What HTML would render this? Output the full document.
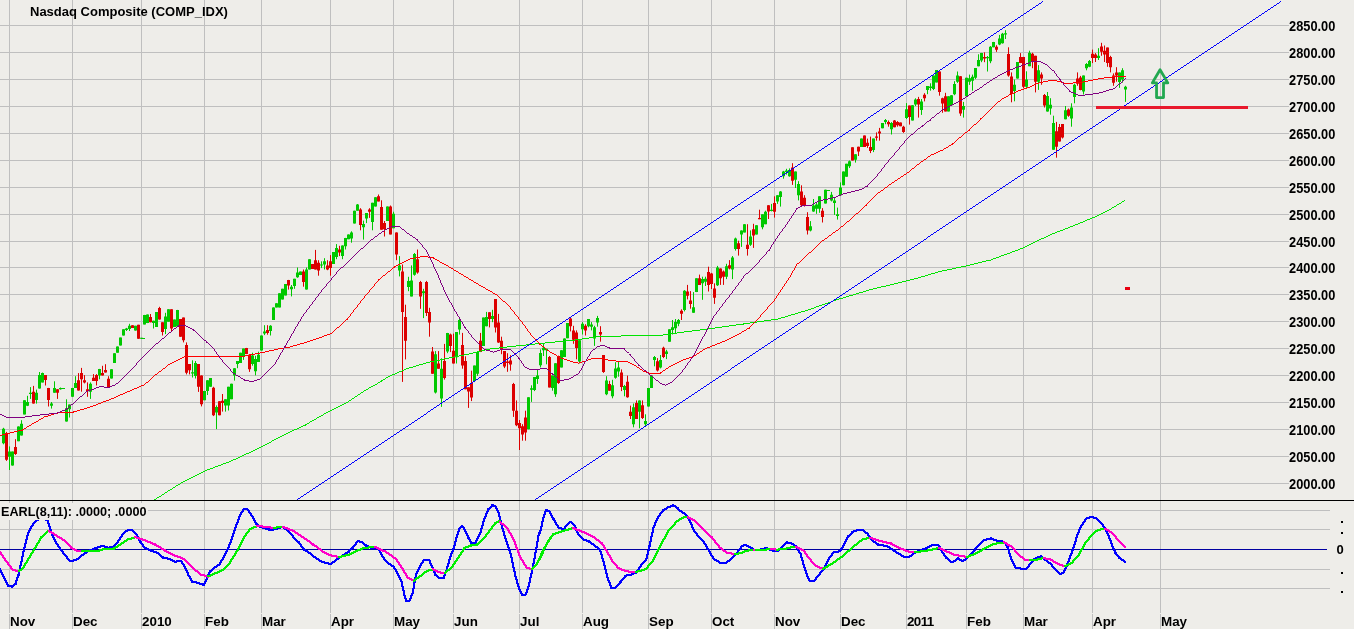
<!DOCTYPE html>
<html><head><meta charset="utf-8"><title>Nasdaq Composite (COMP_IDX)</title>
<style>html,body{margin:0;padding:0;background:#eeede9;}body{width:1354px;height:629px;overflow:hidden}svg{display:block}</style>
</head><body>
<svg width="1354" height="629" viewBox="0 0 1354 629" shape-rendering="auto">
<rect width="1354" height="629" fill="#eeede9"/>
<path d="M9.5 0V613M9.5 614V629 M72.5 0V613M72.5 614V629 M141.5 0V613M141.5 614V629 M204.5 0V613M204.5 614V629 M261.5 0V613M261.5 614V629 M330.5 0V613M330.5 614V629 M393.5 0V613M393.5 614V629 M453.5 0V613M453.5 614V629 M519.5 0V613M519.5 614V629 M582.5 0V613M582.5 614V629 M648.5 0V613M648.5 614V629 M711.5 0V613M711.5 614V629 M774.5 0V613M774.5 614V629 M840.5 0V613M840.5 614V629 M906.5 0V613M906.5 614V629 M966.5 0V613M966.5 614V629 M1023.5 0V613M1023.5 614V629 M1092.5 0V613M1092.5 614V629 M1160.5 0V613M1160.5 614V629 M0 25.5H1289 M0 52.5H1289 M0 79.5H1289 M0 106.5H1289 M0 133.5H1289 M0 160.5H1289 M0 187.5H1289 M0 214.5H1289 M0 241.5H1289 M0 267.5H1289 M0 294.5H1289 M0 321.5H1289 M0 348.5H1289 M0 375.5H1289 M0 402.5H1289 M0 429.5H1289 M0 456.5H1289 M0 483.5H1289 M0 510.5H1330 M0 529.5H1330 M0 569.5H1330 M0 588.5H1330" stroke="#bfbfbf" stroke-width="1" fill="none" shape-rendering="crispEdges"/>
<path d="M3.5 427.8V444.3 M9.5 446.4V470.0 M12.5 451.6V465.6 M18.5 426.4V441.2 M21.5 420.2V435.5 M24.5 400.3V414.4 M27.5 395.8V406.1 M30.5 387.1V398.9 M36.5 389.6V403.6 M39.5 372.0V388.6 M42.5 372.6V382.4 M51.5 402.0V408.6 M54.5 381.3V392.7 M60.5 387.5V389.6 M66.5 399.3V421.6 M69.5 404.5V417.5 M72.5 387.9V396.8 M75.5 376.2V387.9 M90.5 382.4V398.9 M99.5 368.9V379.3 M111.5 369.2V378.5 M114.5 353.3V363.0 M117.5 346.5V352.7 M120.5 337.6V345.5 M123.5 329.3V335.5 M126.5 327.9V331.0 M129.5 323.8V331.0 M135.5 325.8V330.6 M141.5 337.8V338.6 M144.5 314.9V324.4 M147.5 314.5V323.1 M153.5 320.7V328.5 M156.5 312.0V326.9 M165.5 312.8V334.1 M168.5 309.3V321.7 M174.5 319.6V326.9 M177.5 309.9V326.4 M192.5 360.3V377.5 M195.5 361.0V378.5 M204.5 390.9V400.2 M207.5 380.2V395.0 M210.5 378.1V386.8 M216.5 405.4V429.1 M225.5 399.2V411.6 M228.5 386.8V410.5 M231.5 383.7V399.2 M234.5 368.2V380.6 M237.5 361.0V368.2 M240.5 352.7V363.0 M243.5 348.6V359.9 M252.5 352.7V365.7 M255.5 355.8V375.4 M258.5 351.7V362.0 M261.5 335.5V350.6 M264.5 325.2V335.1 M270.5 325.2V335.5 M273.5 307.4V320.0 M276.5 303.2V307.4 M279.5 293.3V307.4 M282.5 288.8V299.5 M285.5 284.0V295.4 M291.5 285.0V296.4 M294.5 278.8V288.8 M297.5 267.5V277.8 M300.5 271.6V275.1 M306.5 267.5V289.6 M309.5 259.2V269.5 M321.5 261.3V268.1 M324.5 258.2V269.5 M333.5 252.0V264.0 M336.5 244.1V259.2 M342.5 245.4V259.2 M345.5 237.9V249.5 M348.5 234.4V239.2 M351.5 231.3V242.7 M354.5 210.7V223.5 M357.5 204.0V210.7 M363.5 220.6V239.6 M366.5 213.1V223.1 M372.5 202.8V230.3 M375.5 197.2V206.5 M387.5 206.5V221.0 M393.5 211.7V228.2 M399.5 256.1V276.4 M408.5 276.8V291.2 M411.5 265.4V296.4 M414.5 253.0V275.7 M423.5 288.8V318.1 M435.5 351.1V393.5 M441.5 358.3V406.9 M447.5 332.9V353.2 M456.5 332.1V363.5 M459.5 317.0V334.6 M474.5 365.6V382.1 M477.5 352.1V375.9 M483.5 317.6V346.0 M486.5 311.9V326.3 M492.5 309.8V322.2 M528.5 397.3V429.3 M531.5 385.3V401.9 M534.5 377.1V391.1 M537.5 369.4V383.9 M540.5 349.4V367.4 M543.5 343.2V356.0 M546.5 348.8V364.3 M552.5 375.6V390.7 M555.5 363.2V396.9 M561.5 350.2V367.4 M564.5 338.4V357.0 M567.5 323.1V338.2 M579.5 340.3V363.4 M582.5 322.1V334.5 M588.5 319.0V327.3 M591.5 322.1V330.4 M594.5 325.8V345.9 M597.5 315.9V326.7 M606.5 376.2V395.2 M612.5 379.8V398.3 M615.5 362.2V378.7 M618.5 361.2V376.7 M624.5 384.9V396.3 M633.5 403.5V427.3 M639.5 400.4V428.3 M645.5 414.3V426.2 M648.5 388.0V406.6 M651.5 375.6V388.0 M654.5 356.0V366.3 M660.5 355.0V368.4 M666.5 349.8V359.1 M669.5 329.3V341.7 M672.5 320.0V334.5 M675.5 319.0V333.5 M678.5 319.0V326.2 M684.5 290.1V311.4 M693.5 292.1V312.8 M696.5 278.3V292.1 M702.5 276.7V299.8 M705.5 276.7V286.0 M717.5 265.9V286.0 M726.5 263.8V279.1 M732.5 256.0V279.1 M735.5 237.6V250.6 M741.5 230.4V246.9 M744.5 224.2V232.4 M750.5 230.4V245.9 M756.5 225.2V234.5 M762.5 214.3V229.3 M765.5 210.7V224.2 M771.5 203.9V211.4 M777.5 195.2V203.9 M780.5 191.1V206.6 M783.5 170.9V178.7 M786.5 168.8V174.6 M789.5 168.4V176.7 M795.5 171.5V188.0 M798.5 181.2V200.4 M810.5 221.1V231.4 M813.5 199.0V211.8 M816.5 203.1V213.8 M819.5 196.3V212.8 M825.5 189.7V203.5 M831.5 191.9V201.4 M834.5 197.3V214.9 M837.5 207.6V219.6 M840.5 182.4V195.2 M843.5 171.5V185.3 M846.5 163.8V176.7 M849.5 160.5V168.0 M855.5 154.3V162.6 M861.5 138.6V146.9 M873.5 138.6V152.1 M882.5 123.1V128.3 M885.5 119.0V124.2 M891.5 122.1V134.5 M906.5 103.1V119.0 M912.5 105.2V120.5 M915.5 98.3V106.0 M921.5 99.0V114.9 M927.5 86.0V94.2 M930.5 83.3V90.7 M933.5 75.6V90.1 M936.5 70.0V82.4 M948.5 96.3V111.4 M951.5 95.2V105.2 M954.5 81.2V95.2 M957.5 71.5V82.9 M963.5 101.9V117.6 M966.5 77.7V96.9 M969.5 74.6V84.9 M972.5 74.6V90.7 M975.5 68.0V79.1 M978.5 54.3V66.3 M981.5 52.9V62.2 M987.5 56.0V71.5 M990.5 46.1V63.2 M993.5 41.9V47.3 M999.5 34.9V45.2 M1002.5 32.9V43.6 M1005.5 30.2V39.0 M1014.5 79.6V101.3 M1017.5 62.0V78.6 M1026.5 71.3V87.9 M1029.5 50.7V66.2 M1038.5 65.1V89.9 M1047.5 92.0V111.6 M1050.5 98.2V114.7 M1053.5 115.7V149.8 M1065.5 106.0V119.3 M1071.5 103.3V126.7 M1074.5 83.7V103.3 M1083.5 75.5V94.5 M1086.5 63.1V70.3 M1089.5 60.0V67.2 M1098.5 48.2V60.0 M1119.5 72.4V87.9 M1122.5 68.2V82.7 M1125.5 85.8V101.9" stroke="#00c800" stroke-width="1" fill="none"/>
<path d="M2 428.8h3V443.3h-3z M8 451.6h3V456.7h-3z M11 451.6h3V465.6h-3z M17 426.4h3V441.2h-3z M20 423.7h3V435.5h-3z M23 400.3h3V414.4h-3z M26 402.0h3V405.7h-3z M29 392.7h3V394.1h-3z M35 392.7h3V399.9h-3z M38 375.1h3V388.6h-3z M41 373.1h3V382.4h-3z M50 403.6h3V405.7h-3z M53 387.9h3V392.7h-3z M59 388.1h3V389.2h-3z M65 408.2h3V421.6h-3z M68 404.5h3V409.2h-3z M71 387.9h3V396.8h-3z M74 383.0h3V387.9h-3z M89 383.8h3V391.7h-3z M98 368.9h3V375.5h-3z M110 369.2h3V378.5h-3z M113 353.3h3V363.0h-3z M116 346.5h3V352.7h-3z M119 337.6h3V345.5h-3z M122 329.3h3V335.5h-3z M125 328.5h3V330.0h-3z M128 325.8h3V328.9h-3z M134 325.8h3V330.6h-3z M140 337.8h3V338.8h-3z M143 314.9h3V324.4h-3z M146 314.5h3V323.1h-3z M152 320.7h3V323.1h-3z M155 312.0h3V326.9h-3z M164 316.5h3V328.9h-3z M167 309.3h3V321.7h-3z M173 319.6h3V326.9h-3z M176 309.9h3V326.4h-3z M191 372.3h3V373.6h-3z M194 363.0h3V376.0h-3z M203 390.9h3V400.2h-3z M206 380.2h3V390.9h-3z M209 378.1h3V386.8h-3z M215 407.0h3V412.6h-3z M224 399.2h3V405.4h-3z M227 386.8h3V405.4h-3z M230 383.7h3V399.2h-3z M233 368.2h3V375.4h-3z M236 361.0h3V364.0h-3z M239 352.7h3V363.0h-3z M242 348.6h3V356.8h-3z M251 355.4h3V364.0h-3z M254 358.9h3V371.3h-3z M257 354.8h3V362.0h-3z M260 335.5h3V350.6h-3z M263 331.4h3V333.5h-3z M269 325.8h3V331.0h-3z M272 307.4h3V320.0h-3z M275 303.2h3V307.4h-3z M278 293.3h3V307.4h-3z M281 288.8h3V299.5h-3z M284 284.0h3V295.4h-3z M290 286.7h3V289.2h-3z M293 278.8h3V286.1h-3z M296 272.6h3V277.2h-3z M299 271.6h3V275.1h-3z M305 269.5h3V289.6h-3z M308 259.2h3V269.5h-3z M320 264.4h3V265.6h-3z M323 261.3h3V264.4h-3z M332 252.0h3V264.0h-3z M335 247.9h3V257.1h-3z M341 245.4h3V256.1h-3z M344 237.9h3V246.2h-3z M347 234.4h3V239.2h-3z M350 232.4h3V238.6h-3z M353 210.7h3V223.5h-3z M356 204.5h3V210.7h-3z M362 224.1h3V227.2h-3z M365 213.1h3V218.5h-3z M371 202.8h3V222.0h-3z M374 197.2h3V206.5h-3z M386 206.5h3V221.0h-3z M392 213.8h3V228.2h-3z M398 265.4h3V270.6h-3z M407 280.9h3V287.1h-3z M410 280.5h3V296.4h-3z M413 254.0h3V274.7h-3z M422 291.2h3V293.3h-3z M434 354.2h3V392.4h-3z M440 368.7h3V398.6h-3z M446 332.9h3V351.5h-3z M455 332.1h3V357.3h-3z M458 320.1h3V329.4h-3z M473 365.6h3V381.1h-3z M476 352.1h3V373.8h-3z M482 317.6h3V346.0h-3z M485 317.0h3V326.3h-3z M491 316.0h3V319.1h-3z M527 397.3h3V429.3h-3z M530 388.2h3V389.7h-3z M533 377.1h3V390.1h-3z M536 375.6h3V379.1h-3z M539 352.9h3V365.3h-3z M542 347.7h3V350.2h-3z M545 348.8h3V350.2h-3z M551 375.6h3V388.0h-3z M554 363.2h3V394.2h-3z M560 350.2h3V367.4h-3z M563 338.4h3V357.0h-3z M566 323.1h3V338.2h-3z M578 340.3h3V361.4h-3z M581 323.8h3V329.3h-3z M587 319.0h3V326.2h-3z M590 324.6h3V326.7h-3z M593 327.3h3V338.6h-3z M596 318.0h3V322.5h-3z M605 380.4h3V394.2h-3z M611 385.3h3V396.3h-3z M614 368.4h3V377.7h-3z M617 367.4h3V371.5h-3z M623 386.0h3V390.1h-3z M632 407.2h3V424.2h-3z M638 400.4h3V411.8h-3z M644 421.1h3V424.2h-3z M647 388.0h3V406.6h-3z M650 375.6h3V388.0h-3z M653 357.0h3V360.1h-3z M659 360.1h3V367.4h-3z M665 351.4h3V353.9h-3z M668 329.3h3V341.7h-3z M671 327.3h3V330.0h-3z M674 322.1h3V328.3h-3z M677 320.0h3V323.8h-3z M683 290.7h3V310.1h-3z M692 307.2h3V312.8h-3z M695 278.3h3V292.1h-3z M701 279.1h3V283.3h-3z M704 278.7h3V281.8h-3z M716 267.4h3V285.3h-3z M725 266.3h3V276.7h-3z M731 257.6h3V269.4h-3z M734 238.6h3V249.0h-3z M740 230.4h3V234.5h-3z M743 224.2h3V232.4h-3z M749 236.6h3V244.8h-3z M755 225.2h3V234.5h-3z M761 214.3h3V227.3h-3z M764 211.8h3V224.2h-3z M770 209.7h3V211.0h-3z M776 195.2h3V201.4h-3z M779 191.5h3V196.9h-3z M782 171.5h3V176.2h-3z M785 170.5h3V172.1h-3z M788 170.0h3V176.2h-3z M794 171.5h3V179.8h-3z M797 183.9h3V195.2h-3z M809 226.2h3V230.4h-3z M812 205.6h3V211.4h-3z M815 204.5h3V208.7h-3z M818 196.3h3V208.7h-3z M824 189.7h3V203.5h-3z M830 194.8h3V200.6h-3z M833 200.4h3V203.1h-3z M836 214.3h3V215.9h-3z M839 187.4h3V195.2h-3z M842 171.5h3V185.3h-3z M845 163.8h3V176.7h-3z M848 161.2h3V166.3h-3z M854 154.3h3V159.7h-3z M860 138.6h3V146.9h-3z M872 138.6h3V150.0h-3z M881 123.1h3V128.3h-3z M884 120.0h3V122.1h-3z M890 123.1h3V129.3h-3z M905 109.3h3V118.0h-3z M911 105.2h3V120.5h-3z M914 99.4h3V104.5h-3z M920 101.4h3V110.1h-3z M926 86.0h3V90.1h-3z M929 86.6h3V88.0h-3z M932 75.6h3V89.0h-3z M935 70.0h3V82.4h-3z M947 96.3h3V111.4h-3z M950 95.2h3V105.2h-3z M953 83.9h3V94.2h-3z M956 75.6h3V81.8h-3z M962 106.0h3V109.7h-3z M965 77.7h3V96.3h-3z M968 78.3h3V81.8h-3z M971 76.7h3V80.8h-3z M974 68.0h3V77.7h-3z M977 60.1h3V66.3h-3z M980 52.9h3V60.5h-3z M986 57.0h3V58.3h-3z M989 46.7h3V61.2h-3z M992 41.9h3V47.3h-3z M998 38.4h3V44.6h-3z M1001 33.7h3V43.2h-3z M1004 33.3h3V34.5h-3z M1013 84.8h3V91.0h-3z M1016 62.0h3V78.6h-3z M1025 79.6h3V86.8h-3z M1028 52.7h3V66.2h-3z M1037 70.3h3V81.7h-3z M1046 96.1h3V111.6h-3z M1049 104.8h3V108.5h-3z M1052 123.0h3V149.8h-3z M1064 110.2h3V119.3h-3z M1070 107.5h3V118.4h-3z M1073 84.8h3V97.1h-3z M1082 75.5h3V91.6h-3z M1085 64.1h3V68.2h-3z M1088 61.0h3V66.8h-3z M1097 55.8h3V57.9h-3z M1118 72.4h3V82.1h-3z M1121 70.3h3V79.6h-3z M1124 86.8h3V89.5h-3z" fill="#00c800"/>
<path d="M6.5 431.9V460.9 M15.5 439.2V454.9 M33.5 385.9V403.6 M45.5 375.1V385.5 M48.5 387.9V406.5 M57.5 389.2V398.9 M78.5 373.1V390.6 M81.5 367.9V391.7 M84.5 375.1V383.4 M87.5 382.4V396.8 M93.5 374.1V380.9 M96.5 374.1V385.5 M102.5 365.8V375.5 M105.5 364.2V372.6 M108.5 376.2V387.1 M132.5 325.2V327.9 M138.5 324.8V338.8 M150.5 314.0V322.3 M159.5 306.8V319.6 M162.5 322.3V335.5 M171.5 309.3V332.0 M180.5 319.0V336.8 M183.5 317.6V342.4 M186.5 342.4V374.4 M189.5 364.0V374.4 M198.5 364.0V391.9 M201.5 375.4V406.4 M213.5 386.8V416.1 M219.5 401.2V415.3 M222.5 394.0V411.6 M246.5 347.9V354.1 M249.5 354.1V371.9 M267.5 325.2V334.7 M288.5 279.9V289.6 M303.5 269.5V286.7 M312.5 264.0V268.9 M315.5 249.9V269.5 M318.5 260.2V275.7 M327.5 260.2V270.2 M330.5 255.1V275.7 M339.5 245.8V256.1 M360.5 208.2V230.3 M369.5 208.2V217.9 M378.5 194.5V201.4 M381.5 200.3V229.7 M384.5 221.0V236.5 M390.5 205.5V234.4 M396.5 232.4V260.2 M402.5 264.4V381.9 M405.5 304.7V359.4 M417.5 249.5V273.7 M420.5 280.9V308.8 M426.5 280.9V316.0 M429.5 307.8V336.7 M432.5 347.0V373.8 M438.5 351.1V368.7 M444.5 343.9V379.6 M450.5 333.6V352.1 M453.5 333.6V363.5 M462.5 332.9V368.7 M465.5 356.3V389.3 M468.5 387.3V407.9 M471.5 370.7V401.1 M480.5 332.9V352.1 M489.5 312.3V327.4 M495.5 299.0V332.5 M498.5 313.9V342.9 M501.5 336.7V354.2 M504.5 351.1V368.1 M507.5 353.2V371.8 M510.5 355.2V370.7 M513.5 382.9V416.9 M516.5 400.4V426.2 M519.5 420.0V450.0 M522.5 424.2V440.7 M525.5 410.7V440.7 M549.5 356.0V387.4 M558.5 355.6V383.9 M570.5 316.9V331.4 M573.5 325.8V343.8 M576.5 330.4V359.3 M585.5 324.2V335.5 M600.5 326.2V341.7 M603.5 355.0V372.9 M609.5 380.8V390.7 M621.5 369.4V391.1 M627.5 375.6V397.7 M630.5 405.6V419.0 M636.5 400.4V419.0 M642.5 400.4V419.0 M657.5 358.1V371.5 M663.5 346.7V358.1 M681.5 309.3V320.0 M687.5 284.9V299.4 M690.5 291.1V308.7 M699.5 274.6V284.9 M708.5 266.7V291.5 M711.5 272.9V289.0 M714.5 283.3V303.9 M720.5 268.4V284.9 M723.5 270.5V284.9 M729.5 260.1V269.4 M738.5 240.7V255.6 M747.5 224.2V255.6 M753.5 223.8V247.9 M759.5 209.7V219.2 M768.5 205.2V219.0 M774.5 196.3V217.6 M792.5 163.2V184.9 M801.5 185.3V206.6 M804.5 195.2V206.6 M807.5 212.2V234.5 M822.5 208.1V222.5 M852.5 147.3V160.5 M858.5 146.7V156.0 M864.5 135.5V146.9 M867.5 138.6V147.9 M870.5 136.6V153.1 M876.5 132.4V140.7 M879.5 127.9V140.7 M888.5 120.5V126.7 M894.5 120.0V127.3 M897.5 121.1V126.7 M900.5 122.5V126.2 M903.5 125.8V132.9 M909.5 105.6V124.6 M918.5 96.9V117.6 M924.5 93.2V101.4 M939.5 71.5V95.7 M942.5 97.7V112.8 M945.5 92.8V111.4 M960.5 76.2V115.9 M984.5 52.3V62.2 M996.5 45.2V51.9 M1008.5 47.3V76.7 M1011.5 72.4V102.3 M1020.5 53.1V63.1 M1023.5 56.9V88.3 M1032.5 52.7V68.2 M1035.5 55.8V92.4 M1041.5 72.4V84.8 M1044.5 94.0V107.5 M1056.5 121.9V157.7 M1059.5 124.0V141.6 M1062.5 124.0V138.5 M1068.5 108.5V116.8 M1077.5 72.4V85.8 M1080.5 75.9V90.3 M1092.5 49.6V63.1 M1095.5 53.1V62.0 M1101.5 42.8V55.8 M1104.5 45.5V62.0 M1107.5 47.6V66.8 M1110.5 55.8V72.4 M1113.5 73.4V85.8 M1116.5 67.2V81.7" stroke="#dc0000" stroke-width="1" fill="none"/>
<path d="M5 433.0h3V459.8h-3z M14 447.0h3V454.0h-3z M32 391.7h3V403.6h-3z M44 375.1h3V379.9h-3z M47 387.9h3V399.9h-3z M56 389.2h3V392.7h-3z M77 380.3h3V390.6h-3z M80 373.1h3V379.3h-3z M83 380.3h3V382.4h-3z M86 389.2h3V391.2h-3z M92 377.8h3V380.9h-3z M95 375.1h3V380.9h-3z M101 373.1h3V375.5h-3z M104 370.0h3V372.6h-3z M107 378.8h3V387.1h-3z M131 325.2h3V327.9h-3z M137 324.8h3V338.8h-3z M149 316.9h3V322.3h-3z M158 307.9h3V319.6h-3z M161 322.3h3V332.0h-3z M170 309.3h3V328.5h-3z M179 319.0h3V336.8h-3z M182 317.6h3V340.3h-3z M185 345.0h3V372.7h-3z M188 364.0h3V370.2h-3z M197 364.0h3V386.8h-3z M200 375.4h3V404.3h-3z M212 387.8h3V415.3h-3z M218 401.2h3V415.3h-3z M221 400.8h3V402.9h-3z M245 347.9h3V354.1h-3z M248 354.8h3V369.2h-3z M266 330.0h3V333.1h-3z M287 279.9h3V285.5h-3z M302 271.6h3V281.9h-3z M311 264.0h3V268.9h-3z M314 260.2h3V269.5h-3z M317 262.7h3V270.6h-3z M326 265.4h3V269.5h-3z M329 261.3h3V268.1h-3z M338 249.5h3V252.4h-3z M359 209.6h3V225.1h-3z M368 209.6h3V211.7h-3z M377 196.2h3V201.4h-3z M380 206.9h3V229.7h-3z M383 223.1h3V229.3h-3z M389 206.5h3V234.4h-3z M395 232.4h3V254.5h-3z M401 271.6h3V311.9h-3z M404 317.1h3V340.8h-3z M416 259.2h3V272.6h-3z M419 281.9h3V296.4h-3z M425 281.9h3V312.9h-3z M428 311.9h3V322.6h-3z M431 351.5h3V373.8h-3z M437 363.5h3V368.7h-3z M443 361.0h3V378.0h-3z M449 334.6h3V346.0h-3z M452 350.7h3V363.5h-3z M461 344.9h3V365.6h-3z M464 361.0h3V389.3h-3z M467 387.3h3V391.4h-3z M470 383.1h3V397.6h-3z M479 340.8h3V352.1h-3z M488 312.3h3V319.1h-3z M494 299.0h3V327.4h-3z M497 322.6h3V342.4h-3z M500 340.8h3V349.0h-3z M503 351.1h3V366.6h-3z M506 361.4h3V363.1h-3z M509 360.4h3V364.5h-3z M512 383.9h3V410.7h-3z M515 410.7h3V425.2h-3z M518 423.1h3V428.3h-3z M521 426.2h3V434.5h-3z M524 417.6h3V432.4h-3z M548 357.0h3V387.4h-3z M557 356.0h3V382.9h-3z M569 318.4h3V326.2h-3z M572 330.4h3V339.7h-3z M575 332.4h3V347.9h-3z M584 325.8h3V330.4h-3z M599 332.0h3V334.5h-3z M602 355.0h3V372.1h-3z M608 383.9h3V390.7h-3z M620 372.5h3V387.0h-3z M626 381.8h3V397.3h-3z M629 411.8h3V415.9h-3z M635 403.1h3V419.0h-3z M641 405.2h3V418.0h-3z M656 361.2h3V370.5h-3z M662 347.7h3V357.0h-3z M680 310.7h3V313.8h-3z M686 291.5h3V295.7h-3z M689 300.4h3V303.9h-3z M698 278.3h3V284.9h-3z M707 272.1h3V284.9h-3z M710 273.6h3V283.9h-3z M713 288.6h3V297.7h-3z M719 268.4h3V278.3h-3z M722 271.5h3V276.7h-3z M728 265.3h3V268.4h-3z M737 243.2h3V249.0h-3z M746 244.8h3V249.0h-3z M752 229.3h3V235.5h-3z M758 218.0h3V219.2h-3z M767 205.2h3V211.4h-3z M773 203.1h3V211.8h-3z M791 167.4h3V180.8h-3z M800 191.5h3V205.2h-3z M803 197.7h3V206.0h-3z M806 216.9h3V230.4h-3z M821 210.7h3V216.9h-3z M851 147.3h3V160.5h-3z M857 146.7h3V151.4h-3z M863 135.5h3V146.9h-3z M866 142.8h3V145.9h-3z M869 146.9h3V151.0h-3z M875 136.6h3V137.8h-3z M878 131.4h3V133.5h-3z M887 122.1h3V124.2h-3z M893 120.5h3V127.3h-3z M896 122.1h3V125.2h-3z M899 122.5h3V126.2h-3z M902 126.7h3V132.0h-3z M908 105.6h3V116.9h-3z M917 99.0h3V104.5h-3z M923 94.8h3V98.3h-3z M938 71.5h3V92.1h-3z M941 98.3h3V103.5h-3z M944 96.3h3V111.4h-3z M959 76.2h3V113.4h-3z M983 57.0h3V58.5h-3z M995 46.7h3V49.8h-3z M1007 53.9h3V75.6h-3z M1010 76.5h3V94.0h-3z M1019 56.9h3V63.1h-3z M1022 56.9h3V86.8h-3z M1031 53.8h3V61.0h-3z M1034 55.8h3V81.7h-3z M1040 74.4h3V78.6h-3z M1043 95.1h3V105.4h-3z M1055 131.2h3V146.7h-3z M1058 127.1h3V141.6h-3z M1061 124.0h3V137.4h-3z M1067 109.5h3V115.7h-3z M1076 78.6h3V83.7h-3z M1079 77.5h3V89.9h-3z M1091 53.8h3V57.9h-3z M1094 54.4h3V57.9h-3z M1100 46.5h3V51.7h-3z M1103 50.7h3V54.4h-3z M1106 47.6h3V63.1h-3z M1109 56.9h3V67.2h-3z M1112 75.5h3V82.7h-3z M1115 72.4h3V75.5h-3z" fill="#dc0000"/>
<path d="M59 388.5H65 M141 338.5H145 M826 190.5H830" stroke="#00c800" stroke-width="1"/>
<path d="M1124 200h1v1h-1zM1122 201h2v1h-2zM1121 202h1v1h-1zM1119 203h2v1h-2zM1117 204h2v1h-2zM1116 205h1v1h-1zM1114 206h2v1h-2zM1112 207h2v1h-2zM1111 208h1v1h-1zM1109 209h2v1h-2zM1107 210h2v1h-2zM1105 211h2v1h-2zM1103 212h2v1h-2zM1101 213h2v1h-2zM1099 214h2v1h-2zM1097 215h2v1h-2zM1095 216h2v1h-2zM1092 217h3v1h-3zM1090 218h2v1h-2zM1087 219h3v1h-3zM1085 220h2v1h-2zM1083 221h2v1h-2zM1080 222h3v1h-3zM1078 223h2v1h-2zM1075 224h3v1h-3zM1073 225h2v1h-2zM1070 226h3v1h-3zM1068 227h2v1h-2zM1065 228h3v1h-3zM1063 229h2v1h-2zM1060 230h3v1h-3zM1057 231h3v1h-3zM1055 232h2v1h-2zM1052 233h3v1h-3zM1050 234h2v1h-2zM1048 235h2v1h-2zM1046 236h2v1h-2zM1044 237h2v1h-2zM1041 238h3v1h-3zM1039 239h2v1h-2zM1037 240h2v1h-2zM1035 241h2v1h-2zM1033 242h2v1h-2zM1031 243h2v1h-2zM1029 244h2v1h-2zM1027 245h2v1h-2zM1025 246h2v1h-2zM1023 247h2v1h-2zM1020 248h3v1h-3zM1018 249h2v1h-2zM1015 250h3v1h-3zM1012 251h3v1h-3zM1010 252h2v1h-2zM1007 253h3v1h-3zM1004 254h3v1h-3zM1001 255h3v1h-3zM999 256h2v1h-2zM996 257h3v1h-3zM993 258h3v1h-3zM991 259h2v1h-2zM986 260h5v1h-5zM982 261h4v1h-4zM978 262h4v1h-4zM974 263h4v1h-4zM970 264h4v1h-4zM966 265h4v1h-4zM961 266h5v1h-5zM956 267h5v1h-5zM952 268h4v1h-4zM947 269h5v1h-5zM942 270h5v1h-5zM938 271h4v1h-4zM935 272h3v1h-3zM931 273h4v1h-4zM928 274h3v1h-3zM925 275h3v1h-3zM921 276h4v1h-4zM918 277h3v1h-3zM914 278h4v1h-4zM910 279h4v1h-4zM906 280h4v1h-4zM902 281h4v1h-4zM898 282h4v1h-4zM894 283h4v1h-4zM890 284h4v1h-4zM886 285h4v1h-4zM881 286h5v1h-5zM877 287h4v1h-4zM873 288h4v1h-4zM869 289h4v1h-4zM866 290h3v1h-3zM863 291h3v1h-3zM859 292h4v1h-4zM856 293h3v1h-3zM853 294h3v1h-3zM849 295h4v1h-4zM846 296h3v1h-3zM843 297h3v1h-3zM839 298h4v1h-4zM836 299h3v1h-3zM833 300h3v1h-3zM831 301h2v1h-2zM828 302h3v1h-3zM825 303h3v1h-3zM822 304h3v1h-3zM819 305h3v1h-3zM816 306h3v1h-3zM814 307h2v1h-2zM811 308h3v1h-3zM808 309h3v1h-3zM805 310h3v1h-3zM801 311h4v1h-4zM798 312h3v1h-3zM795 313h3v1h-3zM791 314h4v1h-4zM788 315h3v1h-3zM785 316h3v1h-3zM781 317h4v1h-4zM778 318h3v1h-3zM771 319h7v1h-7zM764 320h7v1h-7zM757 321h7v1h-7zM750 322h7v1h-7zM743 323h7v1h-7zM736 324h8v1h-8zM729 325h7v1h-7zM722 326h7v1h-7zM715 327h7v1h-7zM707 328h8v1h-8zM700 329h7v1h-7zM692 330h8v1h-8zM684 331h8v1h-8zM677 332h7v1h-7zM670 333h7v1h-7zM663 334h7v1h-7zM621 335h42v1h-42zM596 336h25v1h-25zM589 337h7v1h-7zM582 338h7v1h-7zM575 339h7v1h-7zM565 340h10v1h-10zM555 341h10v1h-10zM545 342h10v1h-10zM535 343h10v1h-10zM526 344h9v1h-9zM516 345h10v1h-10zM507 346h9v1h-9zM499 347h8v1h-8zM490 348h9v1h-9zM485 349h5v1h-5zM481 350h4v1h-4zM477 351h4v1h-4zM473 352h4v1h-4zM469 353h4v1h-4zM464 354h5v1h-5zM459 355h5v1h-5zM454 356h5v1h-5zM449 357h5v1h-5zM444 358h5v1h-5zM440 359h4v1h-4zM435 360h5v1h-5zM430 361h5v1h-5zM426 362h4v1h-4zM423 363h3v1h-3zM419 364h4v1h-4zM416 365h3v1h-3zM413 366h3v1h-3zM409 367h4v1h-4zM406 368h3v1h-3zM404 369h2v1h-2zM402 370h2v1h-2zM399 371h3v1h-3zM397 372h2v1h-2zM395 373h2v1h-2zM392 374h3v1h-3zM390 375h2v1h-2zM388 376h2v1h-2zM386 377h2v1h-2zM385 378h1v1h-1zM383 379h2v1h-2zM381 380h2v1h-2zM380 381h2v1h-2zM378 382h2v1h-2zM377 383h1v1h-1zM375 384h2v1h-2zM373 385h2v1h-2zM371 386h2v1h-2zM369 387h2v1h-2zM368 388h1v1h-1zM366 389h2v1h-2zM364 390h2v1h-2zM363 391h1v1h-1zM361 392h2v1h-2zM360 393h1v1h-1zM358 394h2v1h-2zM357 395h1v1h-1zM355 396h2v1h-2zM354 397h1v1h-1zM352 398h2v1h-2zM351 399h1v1h-1zM349 400h2v1h-2zM348 401h1v1h-1zM346 402h2v1h-2zM344 403h2v1h-2zM342 404h2v1h-2zM340 405h2v1h-2zM338 406h2v1h-2zM336 407h2v1h-2zM334 408h2v1h-2zM332 409h2v1h-2zM330 410h2v1h-2zM328 411h2v1h-2zM326 412h2v1h-2zM324 413h2v1h-2zM323 414h1v1h-1zM321 415h2v1h-2zM319 416h2v1h-2zM317 417h2v1h-2zM316 418h1v1h-1zM314 419h2v1h-2zM312 420h2v1h-2zM310 421h2v1h-2zM309 422h1v1h-1zM307 423h2v1h-2zM305 424h2v1h-2zM303 425h3v1h-3zM301 426h2v1h-2zM299 427h2v1h-2zM297 428h2v1h-2zM294 429h3v1h-3zM292 430h2v1h-2zM290 431h2v1h-2zM288 432h2v1h-2zM286 433h2v1h-2zM284 434h2v1h-2zM282 435h2v1h-2zM280 436h2v1h-2zM278 437h2v1h-2zM276 438h2v1h-2zM274 439h2v1h-2zM272 440h2v1h-2zM271 441h1v1h-1zM269 442h2v1h-2zM267 443h2v1h-2zM265 444h2v1h-2zM263 445h2v1h-2zM261 446h2v1h-2zM259 447h2v1h-2zM257 448h2v1h-2zM255 449h2v1h-2zM253 450h2v1h-2zM251 451h2v1h-2zM249 452h2v1h-2zM246 453h3v1h-3zM244 454h2v1h-2zM242 455h2v1h-2zM240 456h2v1h-2zM238 457h2v1h-2zM236 458h2v1h-2zM233 459h3v1h-3zM231 460h2v1h-2zM229 461h2v1h-2zM226 462h3v1h-3zM223 463h3v1h-3zM221 464h2v1h-2zM218 465h3v1h-3zM215 466h3v1h-3zM213 467h2v1h-2zM210 468h3v1h-3zM207 469h3v1h-3zM205 470h2v1h-2zM203 471h2v1h-2zM201 472h2v1h-2zM199 473h2v1h-2zM197 474h2v1h-2zM195 475h2v1h-2zM193 476h2v1h-2zM191 477h2v1h-2zM189 478h2v1h-2zM187 479h2v1h-2zM185 480h2v1h-2zM183 481h2v1h-2zM181 482h2v1h-2zM180 483h1v1h-1zM178 484h2v1h-2zM176 485h2v1h-2zM175 486h1v1h-1zM173 487h2v1h-2zM172 488h1v1h-1zM170 489h2v1h-2zM168 490h2v1h-2zM167 491h1v1h-1zM165 492h2v1h-2zM164 493h1v1h-1zM162 494h2v1h-2zM161 495h1v1h-1zM159 496h2v1h-2zM157 497h2v1h-2zM156 498h1v1h-1zM154 499h2v1h-2z" fill="#00e400" shape-rendering="crispEdges"/>
<path d="M1112 76h14v1h-14zM1104 77h8v1h-8zM1098 78h6v1h-6zM1093 79h5v1h-5zM1048 80h9v1h-9zM1088 80h5v1h-5zM1043 81h5v1h-5zM1057 81h4v1h-4zM1083 81h5v1h-5zM1039 82h4v1h-4zM1061 82h3v1h-3zM1073 82h10v1h-10zM1035 83h4v1h-4zM1064 83h9v1h-9zM1034 84h1v1h-1zM1032 85h2v1h-2zM1030 86h2v1h-2zM1027 87h3v1h-3zM1024 88h3v1h-3zM1021 89h3v1h-3zM1018 90h3v1h-3zM1016 91h2v1h-2zM1014 92h2v1h-2zM1012 93h2v1h-2zM1009 94h3v1h-3zM1008 95h1v1h-1zM1006 96h2v1h-2zM1004 97h2v1h-2zM1002 98h2v1h-2zM1001 99h1v1h-1zM1000 100h1v1h-1zM998 101h2v1h-2zM997 102h1v1h-1zM996 103h1v1h-1zM995 104h1v1h-1zM994 105h1v1h-1zM993 106h1v1h-1zM992 107h1v1h-1zM991 108h1v1h-1zM990 109h1v1h-1zM989 110h1v1h-1zM988 111h1v1h-1zM987 112h1v1h-1zM986 113h1v1h-1zM985 114h1v1h-1zM984 115h1v1h-1zM983 116h1v1h-1zM982 117h1v1h-1zM980 118h2v1h-2zM980 119h1v1h-1zM979 120h1v1h-1zM978 121h1v1h-1zM977 122h1v1h-1zM976 123h1v1h-1zM974 124h2v1h-2zM973 125h1v1h-1zM972 126h1v1h-1zM971 127h1v1h-1zM970 128h1v1h-1zM969 129h1v1h-1zM968 130h2v1h-2zM967 131h1v1h-1zM965 132h2v1h-2zM964 133h1v1h-1zM963 134h1v1h-1zM962 135h1v1h-1zM961 136h1v1h-1zM959 137h2v1h-2zM958 138h1v1h-1zM957 139h1v1h-1zM956 140h1v1h-1zM955 141h1v1h-1zM954 142h1v1h-1zM952 143h2v1h-2zM951 144h2v1h-2zM949 145h2v1h-2zM948 146h1v1h-1zM946 147h2v1h-2zM944 148h2v1h-2zM943 149h1v1h-1zM940 150h3v1h-3zM938 151h2v1h-2zM936 152h2v1h-2zM934 153h2v1h-2zM931 154h3v1h-3zM930 155h1v1h-1zM928 156h2v1h-2zM927 157h1v1h-1zM926 158h1v1h-1zM924 159h2v1h-2zM923 160h1v1h-1zM921 161h2v1h-2zM920 162h1v1h-1zM919 163h1v1h-1zM917 164h2v1h-2zM916 165h1v1h-1zM915 166h1v1h-1zM914 167h1v1h-1zM912 168h2v1h-2zM911 169h1v1h-1zM910 170h1v1h-1zM909 171h1v1h-1zM907 172h2v1h-2zM906 173h1v1h-1zM904 174h2v1h-2zM903 175h1v1h-1zM901 176h2v1h-2zM900 177h1v1h-1zM898 178h2v1h-2zM897 179h1v1h-1zM895 180h2v1h-2zM894 181h1v1h-1zM892 182h2v1h-2zM891 183h1v1h-1zM889 184h2v1h-2zM888 185h1v1h-1zM887 186h1v1h-1zM885 187h2v1h-2zM884 188h1v1h-1zM883 189h1v1h-1zM881 190h2v1h-2zM880 191h1v1h-1zM878 192h2v1h-2zM877 193h1v1h-1zM876 194h1v1h-1zM875 195h1v1h-1zM874 196h1v1h-1zM873 197h1v1h-1zM872 198h1v1h-1zM871 199h1v1h-1zM870 200h1v1h-1zM869 201h1v1h-1zM868 202h1v1h-1zM867 203h1v1h-1zM866 204h1v1h-1zM865 205h2v1h-2zM864 206h1v1h-1zM863 207h1v1h-1zM862 208h1v1h-1zM861 209h1v1h-1zM860 210h1v1h-1zM859 211h1v1h-1zM858 212h1v1h-1zM856 213h2v1h-2zM855 214h1v1h-1zM854 215h1v1h-1zM853 216h1v1h-1zM852 217h1v1h-1zM851 218h1v1h-1zM850 219h1v1h-1zM849 220h1v1h-1zM847 221h2v1h-2zM846 222h1v1h-1zM845 223h1v1h-1zM844 224h1v1h-1zM843 225h1v1h-1zM841 226h2v1h-2zM840 227h1v1h-1zM839 228h1v1h-1zM838 229h1v1h-1zM836 230h2v1h-2zM835 231h1v1h-1zM833 232h2v1h-2zM832 233h1v1h-1zM831 234h1v1h-1zM829 235h2v1h-2zM828 236h1v1h-1zM827 237h1v1h-1zM825 238h2v1h-2zM824 239h1v1h-1zM822 240h2v1h-2zM821 241h1v1h-1zM820 242h1v1h-1zM819 243h1v1h-1zM818 244h1v1h-1zM817 245h1v1h-1zM816 246h1v1h-1zM815 247h1v1h-1zM814 248h1v1h-1zM813 249h1v1h-1zM812 250h1v1h-1zM811 251h1v1h-1zM809 252h2v1h-2zM808 253h1v1h-1zM807 254h1v1h-1zM806 255h1v1h-1zM420 256h8v1h-8zM805 256h1v1h-1zM415 257h5v1h-5zM428 257h6v1h-6zM804 257h1v1h-1zM410 258h5v1h-5zM433 258h2v1h-2zM803 258h1v1h-1zM408 259h2v1h-2zM435 259h2v1h-2zM802 259h1v1h-1zM406 260h2v1h-2zM437 260h2v1h-2zM801 260h1v1h-1zM404 261h2v1h-2zM439 261h1v1h-1zM800 261h1v1h-1zM402 262h2v1h-2zM440 262h2v1h-2zM799 262h1v1h-1zM400 263h2v1h-2zM442 263h2v1h-2zM797 263h2v1h-2zM398 264h2v1h-2zM444 264h2v1h-2zM796 264h1v1h-1zM396 265h2v1h-2zM446 265h2v1h-2zM796 265h1v1h-1zM394 266h2v1h-2zM448 266h1v1h-1zM795 266h1v1h-1zM393 267h2v1h-2zM449 267h2v1h-2zM795 267h1v1h-1zM392 268h1v1h-1zM451 268h2v1h-2zM794 268h1v1h-1zM391 269h1v1h-1zM453 269h1v1h-1zM794 269h1v1h-1zM390 270h1v1h-1zM454 270h2v1h-2zM793 270h1v1h-1zM388 271h2v1h-2zM456 271h2v1h-2zM792 271h1v1h-1zM387 272h1v1h-1zM458 272h1v1h-1zM792 272h1v1h-1zM386 273h1v1h-1zM459 273h2v1h-2zM791 273h1v1h-1zM385 274h1v1h-1zM461 274h2v1h-2zM791 274h1v1h-1zM383 275h2v1h-2zM463 275h1v1h-1zM790 275h1v1h-1zM382 276h1v1h-1zM464 276h2v1h-2zM790 276h1v1h-1zM381 277h1v1h-1zM466 277h2v1h-2zM789 277h1v1h-1zM380 278h1v1h-1zM468 278h1v1h-1zM788 278h1v1h-1zM378 279h2v1h-2zM469 279h2v1h-2zM788 279h1v1h-1zM378 280h1v1h-1zM471 280h2v1h-2zM787 280h1v1h-1zM377 281h1v1h-1zM473 281h1v1h-1zM786 281h1v1h-1zM376 282h1v1h-1zM474 282h2v1h-2zM786 282h1v1h-1zM375 283h1v1h-1zM476 283h2v1h-2zM785 283h1v1h-1zM374 284h1v1h-1zM478 284h1v1h-1zM784 284h1v1h-1zM374 285h1v1h-1zM479 285h2v1h-2zM784 285h1v1h-1zM373 286h1v1h-1zM481 286h2v1h-2zM783 286h1v1h-1zM372 287h1v1h-1zM483 287h2v1h-2zM782 287h1v1h-1zM371 288h1v1h-1zM485 288h1v1h-1zM782 288h1v1h-1zM370 289h1v1h-1zM486 289h2v1h-2zM781 289h1v1h-1zM369 290h1v1h-1zM488 290h2v1h-2zM780 290h1v1h-1zM369 291h1v1h-1zM490 291h2v1h-2zM780 291h1v1h-1zM368 292h1v1h-1zM492 292h1v1h-1zM779 292h1v1h-1zM367 293h1v1h-1zM493 293h2v1h-2zM778 293h1v1h-1zM366 294h1v1h-1zM495 294h2v1h-2zM778 294h1v1h-1zM365 295h1v1h-1zM497 295h1v1h-1zM777 295h1v1h-1zM364 296h1v1h-1zM498 296h1v1h-1zM776 296h1v1h-1zM364 297h1v1h-1zM499 297h1v1h-1zM776 297h1v1h-1zM363 298h1v1h-1zM500 298h1v1h-1zM775 298h1v1h-1zM362 299h1v1h-1zM501 299h1v1h-1zM774 299h1v1h-1zM361 300h1v1h-1zM502 300h1v1h-1zM774 300h1v1h-1zM360 301h1v1h-1zM503 301h2v1h-2zM773 301h1v1h-1zM360 302h1v1h-1zM505 302h1v1h-1zM772 302h1v1h-1zM359 303h1v1h-1zM506 303h1v1h-1zM771 303h1v1h-1zM358 304h1v1h-1zM507 304h1v1h-1zM770 304h1v1h-1zM357 305h1v1h-1zM508 305h1v1h-1zM769 305h1v1h-1zM357 306h1v1h-1zM509 306h1v1h-1zM768 306h1v1h-1zM356 307h1v1h-1zM510 307h1v1h-1zM767 307h1v1h-1zM355 308h1v1h-1zM510 308h1v1h-1zM767 308h1v1h-1zM354 309h1v1h-1zM511 309h1v1h-1zM766 309h1v1h-1zM353 310h1v1h-1zM512 310h1v1h-1zM765 310h1v1h-1zM353 311h1v1h-1zM513 311h1v1h-1zM764 311h1v1h-1zM352 312h1v1h-1zM514 312h1v1h-1zM763 312h1v1h-1zM351 313h1v1h-1zM514 313h1v1h-1zM762 313h1v1h-1zM350 314h1v1h-1zM515 314h1v1h-1zM761 314h1v1h-1zM350 315h1v1h-1zM516 315h1v1h-1zM760 315h1v1h-1zM349 316h1v1h-1zM517 316h1v1h-1zM760 316h1v1h-1zM348 317h1v1h-1zM518 317h1v1h-1zM759 317h1v1h-1zM347 318h1v1h-1zM518 318h1v1h-1zM758 318h1v1h-1zM346 319h2v1h-2zM519 319h1v1h-1zM757 319h1v1h-1zM345 320h1v1h-1zM520 320h1v1h-1zM756 320h1v1h-1zM344 321h1v1h-1zM521 321h1v1h-1zM755 321h1v1h-1zM343 322h1v1h-1zM522 322h1v1h-1zM754 322h1v1h-1zM342 323h1v1h-1zM522 323h1v1h-1zM753 323h1v1h-1zM341 324h1v1h-1zM523 324h1v1h-1zM752 324h1v1h-1zM340 325h1v1h-1zM524 325h1v1h-1zM751 325h1v1h-1zM339 326h1v1h-1zM525 326h1v1h-1zM750 326h1v1h-1zM337 327h2v1h-2zM525 327h1v1h-1zM749 327h1v1h-1zM336 328h1v1h-1zM526 328h1v1h-1zM747 328h3v1h-3zM335 329h1v1h-1zM527 329h1v1h-1zM746 329h1v1h-1zM334 330h1v1h-1zM527 330h1v1h-1zM744 330h2v1h-2zM333 331h1v1h-1zM528 331h1v1h-1zM742 331h2v1h-2zM332 332h1v1h-1zM529 332h1v1h-1zM741 332h1v1h-1zM330 333h2v1h-2zM530 333h1v1h-1zM739 333h2v1h-2zM327 334h3v1h-3zM530 334h1v1h-1zM737 334h2v1h-2zM324 335h3v1h-3zM531 335h1v1h-1zM735 335h2v1h-2zM322 336h2v1h-2zM532 336h1v1h-1zM733 336h2v1h-2zM319 337h3v1h-3zM533 337h1v1h-1zM731 337h2v1h-2zM316 338h3v1h-3zM534 338h1v1h-1zM729 338h2v1h-2zM313 339h3v1h-3zM535 339h1v1h-1zM727 339h2v1h-2zM310 340h3v1h-3zM536 340h1v1h-1zM725 340h2v1h-2zM307 341h3v1h-3zM537 341h1v1h-1zM722 341h3v1h-3zM304 342h3v1h-3zM538 342h1v1h-1zM720 342h2v1h-2zM300 343h4v1h-4zM539 343h1v1h-1zM717 343h3v1h-3zM297 344h3v1h-3zM539 344h2v1h-2zM715 344h2v1h-2zM293 345h4v1h-4zM541 345h1v1h-1zM712 345h3v1h-3zM290 346h3v1h-3zM542 346h2v1h-2zM710 346h2v1h-2zM284 347h6v1h-6zM544 347h1v1h-1zM707 347h3v1h-3zM278 348h6v1h-6zM545 348h1v1h-1zM705 348h2v1h-2zM274 349h4v1h-4zM546 349h1v1h-1zM703 349h2v1h-2zM269 350h5v1h-5zM547 350h2v1h-2zM702 350h1v1h-1zM265 351h4v1h-4zM549 351h1v1h-1zM700 351h2v1h-2zM260 352h5v1h-5zM550 352h2v1h-2zM699 352h1v1h-1zM255 353h5v1h-5zM552 353h2v1h-2zM697 353h2v1h-2zM250 354h5v1h-5zM554 354h2v1h-2zM696 354h1v1h-1zM245 355h5v1h-5zM556 355h1v1h-1zM694 355h2v1h-2zM184 356h61v1h-61zM557 356h2v1h-2zM692 356h2v1h-2zM182 357h2v1h-2zM559 357h2v1h-2zM689 357h3v1h-3zM180 358h2v1h-2zM561 358h3v1h-3zM591 358h14v1h-14zM686 358h3v1h-3zM178 359h2v1h-2zM564 359h3v1h-3zM588 359h3v1h-3zM605 359h3v1h-3zM683 359h3v1h-3zM176 360h2v1h-2zM567 360h3v1h-3zM586 360h2v1h-2zM608 360h8v1h-8zM681 360h2v1h-2zM174 361h2v1h-2zM570 361h3v1h-3zM582 361h4v1h-4zM616 361h12v1h-12zM679 361h2v1h-2zM172 362h2v1h-2zM573 362h5v1h-5zM579 362h3v1h-3zM628 362h2v1h-2zM677 362h2v1h-2zM170 363h2v1h-2zM578 363h1v1h-1zM630 363h2v1h-2zM675 363h2v1h-2zM168 364h2v1h-2zM632 364h2v1h-2zM673 364h2v1h-2zM167 365h1v1h-1zM634 365h2v1h-2zM671 365h2v1h-2zM166 366h1v1h-1zM636 366h1v1h-1zM669 366h2v1h-2zM165 367h1v1h-1zM637 367h2v1h-2zM668 367h1v1h-1zM163 368h2v1h-2zM639 368h1v1h-1zM666 368h2v1h-2zM162 369h1v1h-1zM640 369h2v1h-2zM665 369h1v1h-1zM161 370h1v1h-1zM642 370h1v1h-1zM663 370h2v1h-2zM159 371h2v1h-2zM643 371h3v1h-3zM662 371h1v1h-1zM158 372h1v1h-1zM646 372h3v1h-3zM660 372h2v1h-2zM157 373h1v1h-1zM649 373h12v1h-12zM155 374h2v1h-2zM154 375h1v1h-1zM153 376h1v1h-1zM152 377h1v1h-1zM151 378h1v1h-1zM150 379h1v1h-1zM149 380h1v1h-1zM148 381h1v1h-1zM146 382h2v1h-2zM145 383h1v1h-1zM144 384h1v1h-1zM141 385h3v1h-3zM139 386h2v1h-2zM137 387h2v1h-2zM134 388h3v1h-3zM132 389h2v1h-2zM130 390h2v1h-2zM127 391h3v1h-3zM125 392h2v1h-2zM123 393h2v1h-2zM120 394h3v1h-3zM118 395h2v1h-2zM116 396h2v1h-2zM114 397h2v1h-2zM111 398h3v1h-3zM109 399h2v1h-2zM106 400h3v1h-3zM103 401h3v1h-3zM101 402h2v1h-2zM98 403h3v1h-3zM96 404h2v1h-2zM93 405h3v1h-3zM90 406h3v1h-3zM87 407h3v1h-3zM84 408h3v1h-3zM80 409h4v1h-4zM77 410h3v1h-3zM73 411h4v1h-4zM57 412h17v1h-17zM54 413h4v1h-4zM51 414h3v1h-3zM48 415h3v1h-3zM44 416h4v1h-4zM43 417h1v1h-1zM41 418h2v1h-2zM39 419h2v1h-2zM38 420h1v1h-1zM36 421h2v1h-2zM34 422h2v1h-2zM32 423h2v1h-2zM31 424h1v1h-1zM29 425h2v1h-2zM27 426h2v1h-2zM26 427h1v1h-1zM24 428h2v1h-2zM22 429h2v1h-2zM18 430h5v1h-5zM14 431h4v1h-4zM10 432h4v1h-4zM6 433h4v1h-4zM2 434h4v1h-4zM0 435h2v1h-2z" fill="#ff0000" shape-rendering="crispEdges"/>
<path d="M1031 61h10v1h-10zM1029 62h2v1h-2zM1041 62h2v1h-2zM1026 63h3v1h-3zM1043 63h2v1h-2zM1023 64h3v1h-3zM1045 64h2v1h-2zM1021 65h2v1h-2zM1047 65h1v1h-1zM1018 66h3v1h-3zM1048 66h1v1h-1zM1015 67h3v1h-3zM1049 67h1v1h-1zM1013 68h2v1h-2zM1050 68h1v1h-1zM1010 69h3v1h-3zM1051 69h1v1h-1zM1008 70h2v1h-2zM1052 70h2v1h-2zM1006 71h2v1h-2zM1054 71h1v1h-1zM1004 72h2v1h-2zM1054 72h1v1h-1zM1002 73h2v1h-2zM1055 73h1v1h-1zM1000 74h2v1h-2zM1056 74h1v1h-1zM998 75h2v1h-2zM1056 75h1v1h-1zM997 76h1v1h-1zM1057 76h1v1h-1zM995 77h2v1h-2zM1058 77h1v1h-1zM993 78h2v1h-2zM1059 78h1v1h-1zM1125 78h1v1h-1zM992 79h1v1h-1zM1059 79h2v1h-2zM1124 79h1v1h-1zM990 80h2v1h-2zM1060 80h1v1h-1zM1123 80h1v1h-1zM989 81h1v1h-1zM1061 81h1v1h-1zM1122 81h1v1h-1zM987 82h2v1h-2zM1062 82h1v1h-1zM1121 82h1v1h-1zM986 83h1v1h-1zM1063 83h1v1h-1zM1119 83h2v1h-2zM984 84h2v1h-2zM1063 84h1v1h-1zM1118 84h1v1h-1zM983 85h1v1h-1zM1064 85h1v1h-1zM1117 85h1v1h-1zM982 86h1v1h-1zM1065 86h1v1h-1zM1116 86h1v1h-1zM980 87h2v1h-2zM1066 87h1v1h-1zM1115 87h1v1h-1zM979 88h1v1h-1zM1067 88h1v1h-1zM1113 88h2v1h-2zM977 89h2v1h-2zM1068 89h1v1h-1zM1109 89h4v1h-4zM975 90h2v1h-2zM1069 90h1v1h-1zM1106 90h3v1h-3zM974 91h1v1h-1zM1069 91h2v1h-2zM1103 91h3v1h-3zM972 92h2v1h-2zM1071 92h3v1h-3zM1099 92h4v1h-4zM971 93h1v1h-1zM1074 93h2v1h-2zM1093 93h6v1h-6zM969 94h2v1h-2zM1076 94h2v1h-2zM1085 94h8v1h-8zM968 95h1v1h-1zM1078 95h7v1h-7zM966 96h2v1h-2zM965 97h1v1h-1zM963 98h2v1h-2zM962 99h1v1h-1zM960 100h2v1h-2zM958 101h2v1h-2zM956 102h2v1h-2zM954 103h2v1h-2zM952 104h2v1h-2zM950 105h2v1h-2zM948 106h2v1h-2zM946 107h2v1h-2zM944 108h2v1h-2zM942 109h2v1h-2zM941 110h1v1h-1zM940 111h1v1h-1zM939 112h1v1h-1zM937 113h2v1h-2zM936 114h1v1h-1zM935 115h1v1h-1zM934 116h1v1h-1zM932 117h2v1h-2zM931 118h1v1h-1zM930 119h1v1h-1zM929 120h2v1h-2zM927 121h2v1h-2zM926 122h1v1h-1zM925 123h1v1h-1zM924 124h1v1h-1zM922 125h2v1h-2zM921 126h2v1h-2zM920 127h1v1h-1zM918 128h2v1h-2zM917 129h1v1h-1zM916 130h1v1h-1zM915 131h1v1h-1zM914 132h1v1h-1zM913 133h1v1h-1zM911 134h2v1h-2zM910 135h1v1h-1zM909 136h1v1h-1zM908 137h1v1h-1zM907 138h1v1h-1zM906 139h1v1h-1zM905 140h1v1h-1zM904 141h1v1h-1zM904 142h1v1h-1zM903 143h1v1h-1zM902 144h1v1h-1zM901 145h1v1h-1zM900 146h1v1h-1zM899 147h1v1h-1zM899 148h1v1h-1zM898 149h1v1h-1zM897 150h1v1h-1zM896 151h1v1h-1zM895 152h1v1h-1zM894 153h1v1h-1zM894 154h1v1h-1zM893 155h1v1h-1zM892 156h1v1h-1zM891 157h1v1h-1zM890 158h1v1h-1zM889 159h1v1h-1zM888 160h1v1h-1zM888 161h1v1h-1zM887 162h1v1h-1zM886 163h1v1h-1zM885 164h1v1h-1zM884 165h1v1h-1zM884 166h1v1h-1zM883 167h1v1h-1zM882 168h1v1h-1zM881 169h1v1h-1zM881 170h1v1h-1zM880 171h1v1h-1zM879 172h1v1h-1zM878 173h1v1h-1zM877 174h1v1h-1zM877 175h1v1h-1zM876 176h1v1h-1zM875 177h1v1h-1zM874 178h1v1h-1zM873 179h1v1h-1zM872 180h1v1h-1zM871 181h1v1h-1zM870 182h1v1h-1zM869 183h1v1h-1zM868 184h1v1h-1zM867 185h1v1h-1zM865 186h3v1h-3zM864 187h1v1h-1zM862 188h2v1h-2zM859 189h3v1h-3zM855 190h4v1h-4zM851 191h4v1h-4zM847 192h4v1h-4zM843 193h4v1h-4zM841 194h2v1h-2zM838 195h3v1h-3zM836 196h2v1h-2zM832 197h4v1h-4zM828 198h4v1h-4zM823 199h5v1h-5zM819 200h4v1h-4zM817 201h2v1h-2zM815 202h2v1h-2zM813 203h2v1h-2zM812 204h1v1h-1zM802 205h10v1h-10zM800 206h2v1h-2zM798 207h2v1h-2zM796 208h2v1h-2zM796 209h1v1h-1zM795 210h1v1h-1zM795 211h1v1h-1zM794 212h1v1h-1zM793 213h1v1h-1zM793 214h1v1h-1zM792 215h1v1h-1zM791 216h1v1h-1zM791 217h1v1h-1zM790 218h1v1h-1zM789 219h1v1h-1zM789 220h1v1h-1zM788 221h1v1h-1zM787 222h1v1h-1zM787 223h1v1h-1zM786 224h1v1h-1zM785 225h1v1h-1zM391 226h9v1h-9zM785 226h1v1h-1zM389 227h2v1h-2zM400 227h1v1h-1zM784 227h1v1h-1zM387 228h2v1h-2zM401 228h1v1h-1zM783 228h1v1h-1zM385 229h2v1h-2zM402 229h2v1h-2zM782 229h1v1h-1zM384 230h1v1h-1zM404 230h1v1h-1zM782 230h1v1h-1zM382 231h2v1h-2zM405 231h1v1h-1zM781 231h1v1h-1zM381 232h1v1h-1zM406 232h1v1h-1zM780 232h1v1h-1zM379 233h2v1h-2zM407 233h2v1h-2zM779 233h1v1h-1zM378 234h1v1h-1zM409 234h1v1h-1zM779 234h1v1h-1zM377 235h1v1h-1zM410 235h2v1h-2zM778 235h1v1h-1zM375 236h2v1h-2zM412 236h1v1h-1zM777 236h1v1h-1zM374 237h1v1h-1zM413 237h2v1h-2zM777 237h1v1h-1zM373 238h1v1h-1zM415 238h1v1h-1zM776 238h1v1h-1zM371 239h2v1h-2zM416 239h2v1h-2zM775 239h1v1h-1zM370 240h1v1h-1zM417 240h1v1h-1zM775 240h1v1h-1zM369 241h1v1h-1zM418 241h1v1h-1zM774 241h1v1h-1zM368 242h1v1h-1zM419 242h1v1h-1zM773 242h1v1h-1zM367 243h1v1h-1zM420 243h1v1h-1zM773 243h1v1h-1zM366 244h1v1h-1zM421 244h1v1h-1zM772 244h1v1h-1zM365 245h1v1h-1zM422 245h1v1h-1zM771 245h1v1h-1zM364 246h1v1h-1zM422 246h1v1h-1zM771 246h1v1h-1zM363 247h1v1h-1zM423 247h1v1h-1zM770 247h1v1h-1zM361 248h2v1h-2zM424 248h1v1h-1zM770 248h1v1h-1zM360 249h1v1h-1zM425 249h1v1h-1zM769 249h1v1h-1zM359 250h1v1h-1zM426 250h1v1h-1zM768 250h2v1h-2zM358 251h1v1h-1zM426 251h1v1h-1zM767 251h1v1h-1zM357 252h1v1h-1zM427 252h1v1h-1zM766 252h1v1h-1zM356 253h1v1h-1zM427 253h1v1h-1zM766 253h1v1h-1zM355 254h1v1h-1zM428 254h1v1h-1zM765 254h1v1h-1zM354 255h1v1h-1zM428 255h1v1h-1zM764 255h1v1h-1zM353 256h1v1h-1zM429 256h1v1h-1zM763 256h1v1h-1zM352 257h1v1h-1zM429 257h1v1h-1zM762 257h1v1h-1zM351 258h1v1h-1zM430 258h1v1h-1zM761 258h1v1h-1zM350 259h1v1h-1zM430 259h1v1h-1zM760 259h1v1h-1zM349 260h1v1h-1zM431 260h1v1h-1zM759 260h1v1h-1zM348 261h1v1h-1zM431 261h1v1h-1zM759 261h1v1h-1zM347 262h1v1h-1zM432 262h1v1h-1zM758 262h1v1h-1zM346 263h1v1h-1zM432 263h1v1h-1zM757 263h1v1h-1zM345 264h1v1h-1zM433 264h1v1h-1zM756 264h1v1h-1zM344 265h1v1h-1zM433 265h1v1h-1zM755 265h1v1h-1zM343 266h1v1h-1zM433 266h1v1h-1zM754 266h1v1h-1zM341 267h2v1h-2zM434 267h1v1h-1zM753 267h1v1h-1zM340 268h1v1h-1zM434 268h1v1h-1zM752 268h1v1h-1zM339 269h1v1h-1zM435 269h1v1h-1zM751 269h1v1h-1zM338 270h1v1h-1zM435 270h1v1h-1zM750 270h1v1h-1zM337 271h1v1h-1zM436 271h1v1h-1zM749 271h1v1h-1zM336 272h1v1h-1zM436 272h1v1h-1zM748 272h1v1h-1zM336 273h1v1h-1zM437 273h1v1h-1zM746 273h2v1h-2zM335 274h1v1h-1zM437 274h1v1h-1zM745 274h1v1h-1zM334 275h1v1h-1zM438 275h1v1h-1zM744 275h1v1h-1zM333 276h1v1h-1zM438 276h1v1h-1zM743 276h1v1h-1zM332 277h1v1h-1zM438 277h1v1h-1zM743 277h1v1h-1zM331 278h1v1h-1zM439 278h1v1h-1zM742 278h1v1h-1zM331 279h1v1h-1zM439 279h1v1h-1zM741 279h1v1h-1zM330 280h1v1h-1zM440 280h1v1h-1zM741 280h1v1h-1zM329 281h1v1h-1zM440 281h1v1h-1zM740 281h1v1h-1zM328 282h1v1h-1zM440 282h1v1h-1zM739 282h1v1h-1zM327 283h1v1h-1zM441 283h1v1h-1zM738 283h1v1h-1zM326 284h1v1h-1zM441 284h1v1h-1zM738 284h1v1h-1zM326 285h1v1h-1zM442 285h1v1h-1zM737 285h1v1h-1zM325 286h1v1h-1zM442 286h1v1h-1zM736 286h1v1h-1zM324 287h1v1h-1zM443 287h1v1h-1zM735 287h1v1h-1zM323 288h1v1h-1zM443 288h1v1h-1zM735 288h1v1h-1zM322 289h1v1h-1zM443 289h1v1h-1zM734 289h1v1h-1zM321 290h1v1h-1zM444 290h1v1h-1zM733 290h1v1h-1zM321 291h1v1h-1zM444 291h1v1h-1zM732 291h1v1h-1zM320 292h1v1h-1zM445 292h1v1h-1zM732 292h1v1h-1zM319 293h1v1h-1zM445 293h1v1h-1zM731 293h1v1h-1zM318 294h1v1h-1zM446 294h1v1h-1zM730 294h1v1h-1zM318 295h1v1h-1zM446 295h1v1h-1zM729 295h1v1h-1zM317 296h1v1h-1zM447 296h1v1h-1zM729 296h1v1h-1zM316 297h1v1h-1zM447 297h1v1h-1zM728 297h1v1h-1zM315 298h1v1h-1zM448 298h1v1h-1zM727 298h1v1h-1zM315 299h1v1h-1zM448 299h1v1h-1zM726 299h1v1h-1zM314 300h1v1h-1zM449 300h1v1h-1zM725 300h1v1h-1zM313 301h1v1h-1zM449 301h1v1h-1zM725 301h1v1h-1zM312 302h1v1h-1zM450 302h1v1h-1zM724 302h1v1h-1zM312 303h1v1h-1zM451 303h1v1h-1zM723 303h1v1h-1zM311 304h1v1h-1zM451 304h1v1h-1zM722 304h1v1h-1zM310 305h1v1h-1zM452 305h1v1h-1zM722 305h1v1h-1zM309 306h1v1h-1zM452 306h1v1h-1zM721 306h1v1h-1zM309 307h1v1h-1zM453 307h1v1h-1zM720 307h1v1h-1zM308 308h1v1h-1zM453 308h1v1h-1zM719 308h1v1h-1zM307 309h1v1h-1zM454 309h1v1h-1zM719 309h1v1h-1zM306 310h1v1h-1zM454 310h1v1h-1zM718 310h1v1h-1zM306 311h1v1h-1zM455 311h1v1h-1zM717 311h1v1h-1zM305 312h1v1h-1zM456 312h1v1h-1zM716 312h1v1h-1zM304 313h1v1h-1zM456 313h1v1h-1zM716 313h1v1h-1zM303 314h1v1h-1zM457 314h1v1h-1zM715 314h1v1h-1zM303 315h1v1h-1zM457 315h1v1h-1zM714 315h1v1h-1zM302 316h1v1h-1zM458 316h1v1h-1zM713 316h1v1h-1zM301 317h1v1h-1zM459 317h1v1h-1zM713 317h1v1h-1zM301 318h1v1h-1zM459 318h1v1h-1zM712 318h1v1h-1zM300 319h1v1h-1zM460 319h1v1h-1zM712 319h1v1h-1zM300 320h1v1h-1zM460 320h1v1h-1zM711 320h1v1h-1zM299 321h1v1h-1zM461 321h1v1h-1zM711 321h1v1h-1zM298 322h1v1h-1zM462 322h1v1h-1zM710 322h1v1h-1zM298 323h1v1h-1zM462 323h1v1h-1zM710 323h1v1h-1zM297 324h1v1h-1zM463 324h1v1h-1zM709 324h1v1h-1zM178 325h8v1h-8zM297 325h1v1h-1zM463 325h1v1h-1zM709 325h1v1h-1zM177 326h2v1h-2zM186 326h2v1h-2zM296 326h1v1h-1zM464 326h1v1h-1zM708 326h1v1h-1zM176 327h1v1h-1zM188 327h2v1h-2zM295 327h1v1h-1zM464 327h2v1h-2zM708 327h1v1h-1zM174 328h2v1h-2zM190 328h2v1h-2zM295 328h1v1h-1zM465 328h1v1h-1zM707 328h1v1h-1zM173 329h1v1h-1zM192 329h2v1h-2zM294 329h1v1h-1zM466 329h1v1h-1zM707 329h1v1h-1zM172 330h1v1h-1zM193 330h2v1h-2zM294 330h1v1h-1zM467 330h1v1h-1zM706 330h1v1h-1zM171 331h1v1h-1zM195 331h1v1h-1zM293 331h1v1h-1zM468 331h1v1h-1zM706 331h1v1h-1zM169 332h2v1h-2zM196 332h1v1h-1zM293 332h1v1h-1zM468 332h1v1h-1zM705 332h1v1h-1zM168 333h1v1h-1zM197 333h1v1h-1zM292 333h1v1h-1zM469 333h1v1h-1zM705 333h1v1h-1zM167 334h1v1h-1zM198 334h1v1h-1zM291 334h1v1h-1zM470 334h1v1h-1zM704 334h1v1h-1zM166 335h1v1h-1zM199 335h1v1h-1zM291 335h1v1h-1zM471 335h1v1h-1zM704 335h1v1h-1zM165 336h1v1h-1zM200 336h1v1h-1zM290 336h1v1h-1zM471 336h1v1h-1zM703 336h1v1h-1zM164 337h1v1h-1zM201 337h1v1h-1zM290 337h1v1h-1zM472 337h1v1h-1zM702 337h1v1h-1zM162 338h2v1h-2zM202 338h1v1h-1zM289 338h1v1h-1zM473 338h1v1h-1zM702 338h1v1h-1zM161 339h1v1h-1zM203 339h1v1h-1zM289 339h1v1h-1zM474 339h1v1h-1zM701 339h1v1h-1zM160 340h1v1h-1zM204 340h2v1h-2zM288 340h1v1h-1zM475 340h1v1h-1zM701 340h1v1h-1zM159 341h1v1h-1zM206 341h1v1h-1zM287 341h1v1h-1zM476 341h1v1h-1zM700 341h1v1h-1zM158 342h1v1h-1zM206 342h2v1h-2zM287 342h1v1h-1zM477 342h1v1h-1zM700 342h1v1h-1zM156 343h2v1h-2zM208 343h1v1h-1zM286 343h1v1h-1zM478 343h1v1h-1zM699 343h1v1h-1zM155 344h1v1h-1zM209 344h1v1h-1zM286 344h1v1h-1zM479 344h1v1h-1zM699 344h1v1h-1zM154 345h1v1h-1zM210 345h1v1h-1zM285 345h1v1h-1zM480 345h1v1h-1zM600 345h5v1h-5zM698 345h1v1h-1zM153 346h1v1h-1zM211 346h1v1h-1zM284 346h2v1h-2zM481 346h1v1h-1zM597 346h3v1h-3zM605 346h2v1h-2zM698 346h1v1h-1zM152 347h1v1h-1zM212 347h1v1h-1zM284 347h1v1h-1zM482 347h1v1h-1zM596 347h1v1h-1zM607 347h3v1h-3zM697 347h1v1h-1zM151 348h1v1h-1zM213 348h1v1h-1zM283 348h1v1h-1zM483 348h1v1h-1zM595 348h1v1h-1zM609 348h16v1h-16zM697 348h1v1h-1zM150 349h1v1h-1zM214 349h1v1h-1zM283 349h1v1h-1zM484 349h2v1h-2zM500 349h11v1h-11zM593 349h2v1h-2zM624 349h1v1h-1zM696 349h1v1h-1zM149 350h1v1h-1zM214 350h1v1h-1zM282 350h1v1h-1zM486 350h4v1h-4zM497 350h3v1h-3zM511 350h1v1h-1zM592 350h1v1h-1zM625 350h1v1h-1zM696 350h1v1h-1zM148 351h1v1h-1zM215 351h1v1h-1zM282 351h1v1h-1zM490 351h3v1h-3zM494 351h3v1h-3zM512 351h1v1h-1zM591 351h1v1h-1zM626 351h1v1h-1zM695 351h1v1h-1zM147 352h1v1h-1zM216 352h1v1h-1zM281 352h1v1h-1zM493 352h1v1h-1zM513 352h1v1h-1zM590 352h1v1h-1zM627 352h2v1h-2zM695 352h1v1h-1zM146 353h1v1h-1zM216 353h1v1h-1zM280 353h1v1h-1zM514 353h1v1h-1zM590 353h1v1h-1zM694 353h1v1h-1zM145 354h1v1h-1zM217 354h1v1h-1zM280 354h1v1h-1zM515 354h1v1h-1zM589 354h1v1h-1zM629 354h2v1h-2zM694 354h1v1h-1zM144 355h1v1h-1zM218 355h1v1h-1zM279 355h1v1h-1zM516 355h1v1h-1zM589 355h1v1h-1zM630 355h1v1h-1zM693 355h1v1h-1zM143 356h1v1h-1zM219 356h1v1h-1zM279 356h1v1h-1zM517 356h1v1h-1zM588 356h1v1h-1zM631 356h1v1h-1zM692 356h1v1h-1zM142 357h1v1h-1zM219 357h1v1h-1zM278 357h1v1h-1zM518 357h1v1h-1zM587 357h1v1h-1zM632 357h1v1h-1zM692 357h1v1h-1zM141 358h1v1h-1zM220 358h1v1h-1zM278 358h1v1h-1zM518 358h2v1h-2zM587 358h1v1h-1zM633 358h1v1h-1zM691 358h1v1h-1zM140 359h1v1h-1zM221 359h1v1h-1zM277 359h1v1h-1zM519 359h1v1h-1zM586 359h1v1h-1zM634 359h1v1h-1zM690 359h1v1h-1zM139 360h1v1h-1zM222 360h1v1h-1zM276 360h1v1h-1zM520 360h1v1h-1zM586 360h1v1h-1zM634 360h1v1h-1zM690 360h1v1h-1zM138 361h1v1h-1zM222 361h1v1h-1zM276 361h1v1h-1zM521 361h1v1h-1zM585 361h1v1h-1zM635 361h1v1h-1zM689 361h1v1h-1zM137 362h1v1h-1zM223 362h1v1h-1zM275 362h1v1h-1zM521 362h1v1h-1zM584 362h1v1h-1zM636 362h1v1h-1zM688 362h1v1h-1zM136 363h1v1h-1zM224 363h1v1h-1zM275 363h1v1h-1zM522 363h1v1h-1zM584 363h1v1h-1zM637 363h1v1h-1zM687 363h1v1h-1zM136 364h1v1h-1zM225 364h1v1h-1zM274 364h1v1h-1zM523 364h1v1h-1zM583 364h1v1h-1zM638 364h1v1h-1zM687 364h1v1h-1zM135 365h1v1h-1zM226 365h1v1h-1zM273 365h1v1h-1zM523 365h1v1h-1zM583 365h1v1h-1zM638 365h2v1h-2zM686 365h1v1h-1zM134 366h1v1h-1zM227 366h1v1h-1zM272 366h1v1h-1zM524 366h1v1h-1zM582 366h1v1h-1zM640 366h1v1h-1zM685 366h1v1h-1zM133 367h1v1h-1zM228 367h1v1h-1zM271 367h1v1h-1zM525 367h2v1h-2zM582 367h1v1h-1zM641 367h1v1h-1zM685 367h1v1h-1zM132 368h1v1h-1zM229 368h1v1h-1zM270 368h1v1h-1zM527 368h2v1h-2zM540 368h7v1h-7zM581 368h1v1h-1zM642 368h1v1h-1zM684 368h1v1h-1zM131 369h1v1h-1zM230 369h1v1h-1zM269 369h1v1h-1zM529 369h11v1h-11zM547 369h1v1h-1zM581 369h1v1h-1zM643 369h1v1h-1zM683 369h1v1h-1zM130 370h1v1h-1zM230 370h1v1h-1zM268 370h1v1h-1zM548 370h1v1h-1zM580 370h1v1h-1zM644 370h2v1h-2zM682 370h1v1h-1zM129 371h1v1h-1zM231 371h1v1h-1zM267 371h1v1h-1zM549 371h1v1h-1zM579 371h1v1h-1zM646 371h1v1h-1zM682 371h1v1h-1zM128 372h1v1h-1zM232 372h1v1h-1zM266 372h1v1h-1zM550 372h1v1h-1zM579 372h1v1h-1zM647 372h1v1h-1zM681 372h1v1h-1zM127 373h1v1h-1zM233 373h2v1h-2zM265 373h1v1h-1zM551 373h2v1h-2zM578 373h1v1h-1zM648 373h1v1h-1zM680 373h1v1h-1zM126 374h1v1h-1zM235 374h1v1h-1zM264 374h1v1h-1zM552 374h2v1h-2zM576 374h2v1h-2zM649 374h1v1h-1zM679 374h1v1h-1zM125 375h1v1h-1zM236 375h2v1h-2zM263 375h1v1h-1zM554 375h1v1h-1zM574 375h2v1h-2zM650 375h2v1h-2zM678 375h1v1h-1zM124 376h1v1h-1zM238 376h2v1h-2zM262 376h1v1h-1zM555 376h1v1h-1zM573 376h1v1h-1zM652 376h1v1h-1zM677 376h1v1h-1zM123 377h1v1h-1zM240 377h1v1h-1zM261 377h1v1h-1zM556 377h1v1h-1zM571 377h2v1h-2zM653 377h1v1h-1zM676 377h1v1h-1zM122 378h1v1h-1zM241 378h2v1h-2zM260 378h1v1h-1zM557 378h1v1h-1zM569 378h2v1h-2zM654 378h1v1h-1zM675 378h1v1h-1zM121 379h1v1h-1zM243 379h2v1h-2zM257 379h3v1h-3zM558 379h1v1h-1zM564 379h5v1h-5zM655 379h1v1h-1zM674 379h1v1h-1zM120 380h1v1h-1zM244 380h5v1h-5zM254 380h3v1h-3zM559 380h5v1h-5zM656 380h2v1h-2zM673 380h1v1h-1zM119 381h1v1h-1zM249 381h5v1h-5zM658 381h1v1h-1zM672 381h1v1h-1zM118 382h1v1h-1zM659 382h1v1h-1zM670 382h2v1h-2zM116 383h2v1h-2zM660 383h2v1h-2zM668 383h2v1h-2zM115 384h1v1h-1zM662 384h3v1h-3zM666 384h2v1h-2zM112 385h3v1h-3zM665 385h1v1h-1zM99 386h5v1h-5zM110 386h2v1h-2zM96 387h3v1h-3zM104 387h6v1h-6zM94 388h2v1h-2zM91 389h3v1h-3zM88 390h3v1h-3zM86 391h2v1h-2zM85 392h1v1h-1zM84 393h1v1h-1zM83 394h1v1h-1zM82 395h1v1h-1zM80 396h2v1h-2zM79 397h1v1h-1zM78 398h1v1h-1zM77 399h1v1h-1zM76 400h1v1h-1zM75 401h1v1h-1zM74 402h1v1h-1zM73 403h1v1h-1zM71 404h2v1h-2zM70 405h1v1h-1zM69 406h1v1h-1zM68 407h1v1h-1zM66 408h2v1h-2zM65 409h2v1h-2zM62 410h3v1h-3zM60 411h2v1h-2zM57 412h3v1h-3zM49 413h8v1h-8zM0 414h2v1h-2zM40 414h9v1h-9zM2 415h2v1h-2zM32 415h8v1h-8zM4 416h2v1h-2zM25 416h7v1h-7zM6 417h19v1h-19z" fill="#800080" shape-rendering="crispEdges"/>
<path d="M1042 1h1v1h-1zM1041 2h1v1h-1zM1039 3h2v1h-2zM1038 4h1v1h-1zM1036 5h2v1h-2zM1035 6h1v1h-1zM1033 7h2v1h-2zM1032 8h1v1h-1zM1030 9h2v1h-2zM1029 10h1v1h-1zM1027 11h2v1h-2zM1026 12h1v1h-1zM1024 13h2v1h-2zM1023 14h1v1h-1zM1021 15h2v1h-2zM1020 16h1v1h-1zM1018 17h2v1h-2zM1017 18h1v1h-1zM1015 19h2v1h-2zM1014 20h1v1h-1zM1012 21h2v1h-2zM1011 22h1v1h-1zM1009 23h2v1h-2zM1008 24h1v1h-1zM1006 25h2v1h-2zM1005 26h1v1h-1zM1003 27h2v1h-2zM1002 28h1v1h-1zM1000 29h2v1h-2zM999 30h1v1h-1zM997 31h2v1h-2zM996 32h1v1h-1zM994 33h2v1h-2zM993 34h1v1h-1zM991 35h2v1h-2zM990 36h1v1h-1zM988 37h2v1h-2zM987 38h1v1h-1zM985 39h2v1h-2zM984 40h1v1h-1zM982 41h2v1h-2zM981 42h1v1h-1zM979 43h2v1h-2zM978 44h1v1h-1zM976 45h2v1h-2zM975 46h1v1h-1zM973 47h2v1h-2zM972 48h1v1h-1zM970 49h2v1h-2zM969 50h1v1h-1zM967 51h2v1h-2zM966 52h1v1h-1zM964 53h2v1h-2zM963 54h1v1h-1zM961 55h2v1h-2zM960 56h1v1h-1zM958 57h2v1h-2zM957 58h1v1h-1zM955 59h2v1h-2zM954 60h1v1h-1zM952 61h2v1h-2zM951 62h1v1h-1zM949 63h2v1h-2zM948 64h1v1h-1zM946 65h2v1h-2zM945 66h1v1h-1zM943 67h2v1h-2zM942 68h1v1h-1zM940 69h2v1h-2zM939 70h1v1h-1zM937 71h2v1h-2zM936 72h1v1h-1zM934 73h2v1h-2zM933 74h1v1h-1zM931 75h2v1h-2zM930 76h1v1h-1zM928 77h2v1h-2zM927 78h1v1h-1zM925 79h2v1h-2zM924 80h1v1h-1zM922 81h2v1h-2zM921 82h1v1h-1zM919 83h2v1h-2zM918 84h1v1h-1zM916 85h2v1h-2zM915 86h1v1h-1zM913 87h2v1h-2zM912 88h1v1h-1zM910 89h2v1h-2zM909 90h1v1h-1zM907 91h2v1h-2zM906 92h1v1h-1zM904 93h2v1h-2zM903 94h1v1h-1zM901 95h2v1h-2zM900 96h1v1h-1zM898 97h2v1h-2zM897 98h1v1h-1zM895 99h2v1h-2zM894 100h1v1h-1zM892 101h2v1h-2zM891 102h1v1h-1zM889 103h2v1h-2zM888 104h1v1h-1zM886 105h2v1h-2zM885 106h1v1h-1zM883 107h2v1h-2zM882 108h1v1h-1zM880 109h2v1h-2zM879 110h1v1h-1zM877 111h2v1h-2zM876 112h1v1h-1zM874 113h2v1h-2zM873 114h1v1h-1zM871 115h2v1h-2zM870 116h1v1h-1zM868 117h2v1h-2zM867 118h1v1h-1zM866 119h1v1h-1zM864 120h2v1h-2zM863 121h1v1h-1zM861 122h2v1h-2zM860 123h1v1h-1zM858 124h2v1h-2zM857 125h1v1h-1zM855 126h2v1h-2zM854 127h1v1h-1zM852 128h2v1h-2zM851 129h1v1h-1zM849 130h2v1h-2zM848 131h1v1h-1zM846 132h2v1h-2zM845 133h1v1h-1zM843 134h2v1h-2zM842 135h1v1h-1zM840 136h2v1h-2zM839 137h1v1h-1zM837 138h2v1h-2zM836 139h1v1h-1zM834 140h2v1h-2zM833 141h1v1h-1zM831 142h2v1h-2zM830 143h1v1h-1zM828 144h2v1h-2zM827 145h1v1h-1zM825 146h2v1h-2zM824 147h1v1h-1zM822 148h2v1h-2zM821 149h1v1h-1zM819 150h2v1h-2zM818 151h1v1h-1zM816 152h2v1h-2zM815 153h1v1h-1zM813 154h2v1h-2zM812 155h1v1h-1zM810 156h2v1h-2zM809 157h1v1h-1zM807 158h2v1h-2zM806 159h1v1h-1zM804 160h2v1h-2zM803 161h1v1h-1zM801 162h2v1h-2zM800 163h1v1h-1zM798 164h2v1h-2zM797 165h1v1h-1zM795 166h2v1h-2zM794 167h1v1h-1zM792 168h2v1h-2zM791 169h1v1h-1zM789 170h2v1h-2zM788 171h1v1h-1zM786 172h2v1h-2zM785 173h1v1h-1zM783 174h2v1h-2zM782 175h1v1h-1zM780 176h2v1h-2zM779 177h1v1h-1zM777 178h2v1h-2zM776 179h1v1h-1zM774 180h2v1h-2zM773 181h1v1h-1zM771 182h2v1h-2zM770 183h1v1h-1zM768 184h2v1h-2zM767 185h1v1h-1zM765 186h2v1h-2zM764 187h1v1h-1zM762 188h2v1h-2zM761 189h1v1h-1zM759 190h2v1h-2zM758 191h1v1h-1zM756 192h2v1h-2zM755 193h1v1h-1zM753 194h2v1h-2zM752 195h1v1h-1zM750 196h2v1h-2zM749 197h1v1h-1zM747 198h2v1h-2zM746 199h1v1h-1zM744 200h2v1h-2zM743 201h1v1h-1zM741 202h2v1h-2zM740 203h1v1h-1zM738 204h2v1h-2zM737 205h1v1h-1zM735 206h2v1h-2zM734 207h1v1h-1zM732 208h2v1h-2zM731 209h1v1h-1zM729 210h2v1h-2zM728 211h1v1h-1zM726 212h2v1h-2zM725 213h1v1h-1zM723 214h2v1h-2zM722 215h1v1h-1zM720 216h2v1h-2zM719 217h1v1h-1zM717 218h2v1h-2zM716 219h1v1h-1zM714 220h2v1h-2zM713 221h1v1h-1zM711 222h2v1h-2zM710 223h1v1h-1zM708 224h2v1h-2zM707 225h1v1h-1zM705 226h2v1h-2zM704 227h1v1h-1zM702 228h2v1h-2zM701 229h1v1h-1zM699 230h2v1h-2zM698 231h1v1h-1zM696 232h2v1h-2zM695 233h1v1h-1zM693 234h2v1h-2zM692 235h1v1h-1zM690 236h2v1h-2zM689 237h1v1h-1zM687 238h2v1h-2zM686 239h1v1h-1zM684 240h2v1h-2zM683 241h1v1h-1zM681 242h2v1h-2zM680 243h1v1h-1zM678 244h2v1h-2zM677 245h1v1h-1zM675 246h2v1h-2zM674 247h1v1h-1zM672 248h2v1h-2zM671 249h1v1h-1zM669 250h2v1h-2zM668 251h1v1h-1zM666 252h2v1h-2zM665 253h1v1h-1zM663 254h2v1h-2zM662 255h1v1h-1zM660 256h2v1h-2zM659 257h1v1h-1zM657 258h2v1h-2zM656 259h1v1h-1zM654 260h2v1h-2zM653 261h1v1h-1zM651 262h2v1h-2zM650 263h1v1h-1zM648 264h2v1h-2zM647 265h1v1h-1zM646 266h1v1h-1zM644 267h2v1h-2zM643 268h1v1h-1zM641 269h2v1h-2zM640 270h1v1h-1zM638 271h2v1h-2zM637 272h1v1h-1zM635 273h2v1h-2zM634 274h1v1h-1zM632 275h2v1h-2zM631 276h1v1h-1zM629 277h2v1h-2zM628 278h1v1h-1zM626 279h2v1h-2zM625 280h1v1h-1zM623 281h2v1h-2zM622 282h1v1h-1zM620 283h2v1h-2zM619 284h1v1h-1zM617 285h2v1h-2zM616 286h1v1h-1zM614 287h2v1h-2zM613 288h1v1h-1zM611 289h2v1h-2zM610 290h1v1h-1zM608 291h2v1h-2zM607 292h1v1h-1zM605 293h2v1h-2zM604 294h1v1h-1zM602 295h2v1h-2zM601 296h1v1h-1zM599 297h2v1h-2zM598 298h1v1h-1zM596 299h2v1h-2zM595 300h1v1h-1zM593 301h2v1h-2zM592 302h1v1h-1zM590 303h2v1h-2zM589 304h1v1h-1zM587 305h2v1h-2zM586 306h1v1h-1zM584 307h2v1h-2zM583 308h1v1h-1zM581 309h2v1h-2zM580 310h1v1h-1zM578 311h2v1h-2zM577 312h1v1h-1zM575 313h2v1h-2zM574 314h1v1h-1zM572 315h2v1h-2zM571 316h1v1h-1zM569 317h2v1h-2zM568 318h1v1h-1zM566 319h2v1h-2zM565 320h1v1h-1zM563 321h2v1h-2zM562 322h1v1h-1zM560 323h2v1h-2zM559 324h1v1h-1zM557 325h2v1h-2zM556 326h1v1h-1zM554 327h2v1h-2zM553 328h1v1h-1zM551 329h2v1h-2zM550 330h1v1h-1zM548 331h2v1h-2zM547 332h1v1h-1zM545 333h2v1h-2zM544 334h1v1h-1zM542 335h2v1h-2zM541 336h1v1h-1zM539 337h2v1h-2zM538 338h1v1h-1zM536 339h2v1h-2zM535 340h1v1h-1zM533 341h2v1h-2zM532 342h1v1h-1zM530 343h2v1h-2zM529 344h1v1h-1zM527 345h2v1h-2zM526 346h1v1h-1zM524 347h2v1h-2zM523 348h1v1h-1zM521 349h2v1h-2zM520 350h1v1h-1zM518 351h2v1h-2zM517 352h1v1h-1zM515 353h2v1h-2zM514 354h1v1h-1zM512 355h2v1h-2zM511 356h1v1h-1zM509 357h2v1h-2zM508 358h1v1h-1zM506 359h2v1h-2zM505 360h1v1h-1zM503 361h2v1h-2zM502 362h1v1h-1zM500 363h2v1h-2zM499 364h1v1h-1zM497 365h2v1h-2zM496 366h1v1h-1zM494 367h2v1h-2zM493 368h1v1h-1zM491 369h2v1h-2zM490 370h1v1h-1zM488 371h2v1h-2zM487 372h1v1h-1zM485 373h2v1h-2zM484 374h1v1h-1zM482 375h2v1h-2zM481 376h1v1h-1zM479 377h2v1h-2zM478 378h1v1h-1zM476 379h2v1h-2zM475 380h1v1h-1zM473 381h2v1h-2zM472 382h1v1h-1zM470 383h2v1h-2zM469 384h1v1h-1zM467 385h2v1h-2zM466 386h1v1h-1zM464 387h2v1h-2zM463 388h1v1h-1zM461 389h2v1h-2zM460 390h1v1h-1zM458 391h2v1h-2zM457 392h1v1h-1zM455 393h2v1h-2zM454 394h1v1h-1zM452 395h2v1h-2zM451 396h1v1h-1zM449 397h2v1h-2zM448 398h1v1h-1zM446 399h2v1h-2zM445 400h1v1h-1zM443 401h2v1h-2zM442 402h1v1h-1zM440 403h2v1h-2zM439 404h1v1h-1zM437 405h2v1h-2zM436 406h1v1h-1zM434 407h2v1h-2zM433 408h1v1h-1zM431 409h2v1h-2zM430 410h1v1h-1zM428 411h2v1h-2zM427 412h1v1h-1zM426 413h1v1h-1zM424 414h2v1h-2zM423 415h1v1h-1zM421 416h2v1h-2zM420 417h1v1h-1zM418 418h2v1h-2zM417 419h1v1h-1zM415 420h2v1h-2zM414 421h1v1h-1zM412 422h2v1h-2zM411 423h1v1h-1zM409 424h2v1h-2zM408 425h1v1h-1zM406 426h2v1h-2zM405 427h1v1h-1zM403 428h2v1h-2zM402 429h1v1h-1zM400 430h2v1h-2zM399 431h1v1h-1zM397 432h2v1h-2zM396 433h1v1h-1zM394 434h2v1h-2zM393 435h1v1h-1zM391 436h2v1h-2zM390 437h1v1h-1zM388 438h2v1h-2zM387 439h1v1h-1zM385 440h2v1h-2zM384 441h1v1h-1zM382 442h2v1h-2zM381 443h1v1h-1zM379 444h2v1h-2zM378 445h1v1h-1zM376 446h2v1h-2zM375 447h1v1h-1zM373 448h2v1h-2zM372 449h1v1h-1zM370 450h2v1h-2zM369 451h1v1h-1zM367 452h2v1h-2zM366 453h1v1h-1zM364 454h2v1h-2zM363 455h1v1h-1zM361 456h2v1h-2zM360 457h1v1h-1zM358 458h2v1h-2zM357 459h1v1h-1zM355 460h2v1h-2zM354 461h1v1h-1zM352 462h2v1h-2zM351 463h1v1h-1zM349 464h2v1h-2zM348 465h1v1h-1zM346 466h2v1h-2zM345 467h1v1h-1zM343 468h2v1h-2zM342 469h1v1h-1zM340 470h2v1h-2zM339 471h1v1h-1zM337 472h2v1h-2zM336 473h1v1h-1zM334 474h2v1h-2zM333 475h1v1h-1zM331 476h2v1h-2zM330 477h1v1h-1zM328 478h2v1h-2zM327 479h1v1h-1zM325 480h2v1h-2zM324 481h1v1h-1zM322 482h2v1h-2zM321 483h1v1h-1zM319 484h2v1h-2zM318 485h1v1h-1zM316 486h2v1h-2zM315 487h1v1h-1zM313 488h2v1h-2zM312 489h1v1h-1zM310 490h2v1h-2zM309 491h1v1h-1zM307 492h2v1h-2zM306 493h1v1h-1zM304 494h2v1h-2zM303 495h1v1h-1zM301 496h2v1h-2zM300 497h1v1h-1zM298 498h2v1h-2zM297 499h1v1h-1z" fill="#0000ff" shape-rendering="crispEdges"/>
<path d="M1280 1h1v1h-1zM1279 2h1v1h-1zM1277 3h2v1h-2zM1276 4h1v1h-1zM1274 5h2v1h-2zM1273 6h1v1h-1zM1271 7h2v1h-2zM1270 8h1v1h-1zM1268 9h2v1h-2zM1267 10h1v1h-1zM1265 11h2v1h-2zM1264 12h1v1h-1zM1262 13h2v1h-2zM1261 14h1v1h-1zM1259 15h2v1h-2zM1258 16h1v1h-1zM1256 17h2v1h-2zM1255 18h1v1h-1zM1253 19h2v1h-2zM1252 20h1v1h-1zM1250 21h2v1h-2zM1249 22h1v1h-1zM1247 23h2v1h-2zM1246 24h1v1h-1zM1244 25h2v1h-2zM1243 26h1v1h-1zM1241 27h2v1h-2zM1240 28h1v1h-1zM1238 29h2v1h-2zM1237 30h1v1h-1zM1235 31h2v1h-2zM1234 32h1v1h-1zM1232 33h2v1h-2zM1231 34h1v1h-1zM1229 35h2v1h-2zM1228 36h1v1h-1zM1226 37h2v1h-2zM1225 38h1v1h-1zM1223 39h2v1h-2zM1222 40h1v1h-1zM1220 41h2v1h-2zM1219 42h1v1h-1zM1217 43h2v1h-2zM1216 44h1v1h-1zM1214 45h2v1h-2zM1213 46h1v1h-1zM1211 47h2v1h-2zM1210 48h1v1h-1zM1208 49h2v1h-2zM1207 50h1v1h-1zM1205 51h2v1h-2zM1204 52h1v1h-1zM1202 53h2v1h-2zM1201 54h1v1h-1zM1199 55h2v1h-2zM1198 56h1v1h-1zM1196 57h2v1h-2zM1195 58h1v1h-1zM1193 59h2v1h-2zM1192 60h1v1h-1zM1190 61h2v1h-2zM1189 62h1v1h-1zM1187 63h2v1h-2zM1186 64h1v1h-1zM1184 65h2v1h-2zM1183 66h1v1h-1zM1181 67h2v1h-2zM1180 68h1v1h-1zM1178 69h2v1h-2zM1177 70h1v1h-1zM1175 71h2v1h-2zM1174 72h1v1h-1zM1172 73h2v1h-2zM1171 74h1v1h-1zM1169 75h2v1h-2zM1168 76h1v1h-1zM1166 77h2v1h-2zM1165 78h1v1h-1zM1163 79h2v1h-2zM1162 80h1v1h-1zM1160 81h2v1h-2zM1159 82h1v1h-1zM1157 83h2v1h-2zM1156 84h1v1h-1zM1154 85h2v1h-2zM1153 86h1v1h-1zM1151 87h2v1h-2zM1150 88h1v1h-1zM1148 89h2v1h-2zM1147 90h1v1h-1zM1145 91h2v1h-2zM1144 92h1v1h-1zM1142 93h2v1h-2zM1141 94h1v1h-1zM1139 95h2v1h-2zM1138 96h1v1h-1zM1136 97h2v1h-2zM1135 98h1v1h-1zM1133 99h2v1h-2zM1132 100h1v1h-1zM1130 101h2v1h-2zM1129 102h1v1h-1zM1127 103h2v1h-2zM1126 104h1v1h-1zM1124 105h2v1h-2zM1123 106h1v1h-1zM1122 107h1v1h-1zM1120 108h2v1h-2zM1119 109h1v1h-1zM1117 110h2v1h-2zM1116 111h1v1h-1zM1114 112h2v1h-2zM1113 113h1v1h-1zM1111 114h2v1h-2zM1110 115h1v1h-1zM1108 116h2v1h-2zM1107 117h1v1h-1zM1105 118h2v1h-2zM1104 119h1v1h-1zM1102 120h2v1h-2zM1101 121h1v1h-1zM1099 122h2v1h-2zM1098 123h1v1h-1zM1096 124h2v1h-2zM1095 125h1v1h-1zM1093 126h2v1h-2zM1092 127h1v1h-1zM1090 128h2v1h-2zM1089 129h1v1h-1zM1087 130h2v1h-2zM1086 131h1v1h-1zM1084 132h2v1h-2zM1083 133h1v1h-1zM1081 134h2v1h-2zM1080 135h1v1h-1zM1078 136h2v1h-2zM1077 137h1v1h-1zM1075 138h2v1h-2zM1074 139h1v1h-1zM1072 140h2v1h-2zM1071 141h1v1h-1zM1069 142h2v1h-2zM1068 143h1v1h-1zM1066 144h2v1h-2zM1065 145h1v1h-1zM1063 146h2v1h-2zM1062 147h1v1h-1zM1060 148h2v1h-2zM1059 149h1v1h-1zM1057 150h2v1h-2zM1056 151h1v1h-1zM1054 152h2v1h-2zM1053 153h1v1h-1zM1051 154h2v1h-2zM1050 155h1v1h-1zM1048 156h2v1h-2zM1047 157h1v1h-1zM1045 158h2v1h-2zM1044 159h1v1h-1zM1042 160h2v1h-2zM1041 161h1v1h-1zM1039 162h2v1h-2zM1038 163h1v1h-1zM1036 164h2v1h-2zM1035 165h1v1h-1zM1033 166h2v1h-2zM1032 167h1v1h-1zM1030 168h2v1h-2zM1029 169h1v1h-1zM1027 170h2v1h-2zM1026 171h1v1h-1zM1024 172h2v1h-2zM1023 173h1v1h-1zM1021 174h2v1h-2zM1020 175h1v1h-1zM1018 176h2v1h-2zM1017 177h1v1h-1zM1015 178h2v1h-2zM1014 179h1v1h-1zM1012 180h2v1h-2zM1011 181h1v1h-1zM1009 182h2v1h-2zM1008 183h1v1h-1zM1006 184h2v1h-2zM1005 185h1v1h-1zM1003 186h2v1h-2zM1002 187h1v1h-1zM1000 188h2v1h-2zM999 189h1v1h-1zM997 190h2v1h-2zM996 191h1v1h-1zM994 192h2v1h-2zM993 193h1v1h-1zM991 194h2v1h-2zM990 195h1v1h-1zM988 196h2v1h-2zM987 197h1v1h-1zM985 198h2v1h-2zM984 199h1v1h-1zM982 200h2v1h-2zM981 201h1v1h-1zM979 202h2v1h-2zM978 203h1v1h-1zM976 204h2v1h-2zM975 205h1v1h-1zM973 206h2v1h-2zM972 207h1v1h-1zM970 208h2v1h-2zM969 209h1v1h-1zM967 210h2v1h-2zM966 211h1v1h-1zM964 212h2v1h-2zM963 213h1v1h-1zM961 214h2v1h-2zM960 215h1v1h-1zM958 216h2v1h-2zM957 217h1v1h-1zM955 218h2v1h-2zM954 219h1v1h-1zM952 220h2v1h-2zM951 221h1v1h-1zM949 222h2v1h-2zM948 223h1v1h-1zM946 224h2v1h-2zM945 225h1v1h-1zM943 226h2v1h-2zM942 227h1v1h-1zM940 228h2v1h-2zM939 229h1v1h-1zM937 230h2v1h-2zM936 231h1v1h-1zM934 232h2v1h-2zM933 233h1v1h-1zM931 234h2v1h-2zM930 235h1v1h-1zM928 236h2v1h-2zM927 237h1v1h-1zM926 238h1v1h-1zM924 239h2v1h-2zM923 240h1v1h-1zM921 241h2v1h-2zM920 242h1v1h-1zM918 243h2v1h-2zM917 244h1v1h-1zM915 245h2v1h-2zM914 246h1v1h-1zM912 247h2v1h-2zM911 248h1v1h-1zM909 249h2v1h-2zM908 250h1v1h-1zM906 251h2v1h-2zM905 252h1v1h-1zM903 253h2v1h-2zM902 254h1v1h-1zM900 255h2v1h-2zM899 256h1v1h-1zM897 257h2v1h-2zM896 258h1v1h-1zM894 259h2v1h-2zM893 260h1v1h-1zM891 261h2v1h-2zM890 262h1v1h-1zM888 263h2v1h-2zM887 264h1v1h-1zM885 265h2v1h-2zM884 266h1v1h-1zM882 267h2v1h-2zM881 268h1v1h-1zM879 269h2v1h-2zM878 270h1v1h-1zM876 271h2v1h-2zM875 272h1v1h-1zM873 273h2v1h-2zM872 274h1v1h-1zM870 275h2v1h-2zM869 276h1v1h-1zM867 277h2v1h-2zM866 278h1v1h-1zM864 279h2v1h-2zM863 280h1v1h-1zM861 281h2v1h-2zM860 282h1v1h-1zM858 283h2v1h-2zM857 284h1v1h-1zM855 285h2v1h-2zM854 286h1v1h-1zM852 287h2v1h-2zM851 288h1v1h-1zM849 289h2v1h-2zM848 290h1v1h-1zM846 291h2v1h-2zM845 292h1v1h-1zM843 293h2v1h-2zM842 294h1v1h-1zM840 295h2v1h-2zM839 296h1v1h-1zM837 297h2v1h-2zM836 298h1v1h-1zM834 299h2v1h-2zM833 300h1v1h-1zM831 301h2v1h-2zM830 302h1v1h-1zM828 303h2v1h-2zM827 304h1v1h-1zM825 305h2v1h-2zM824 306h1v1h-1zM822 307h2v1h-2zM821 308h1v1h-1zM819 309h2v1h-2zM818 310h1v1h-1zM816 311h2v1h-2zM815 312h1v1h-1zM813 313h2v1h-2zM812 314h1v1h-1zM810 315h2v1h-2zM809 316h1v1h-1zM807 317h2v1h-2zM806 318h1v1h-1zM804 319h2v1h-2zM803 320h1v1h-1zM801 321h2v1h-2zM800 322h1v1h-1zM798 323h2v1h-2zM797 324h1v1h-1zM795 325h2v1h-2zM794 326h1v1h-1zM792 327h2v1h-2zM791 328h1v1h-1zM789 329h2v1h-2zM788 330h1v1h-1zM786 331h2v1h-2zM785 332h1v1h-1zM783 333h2v1h-2zM782 334h1v1h-1zM780 335h2v1h-2zM779 336h1v1h-1zM777 337h2v1h-2zM776 338h1v1h-1zM774 339h2v1h-2zM773 340h1v1h-1zM771 341h2v1h-2zM770 342h1v1h-1zM768 343h2v1h-2zM767 344h1v1h-1zM765 345h2v1h-2zM764 346h1v1h-1zM762 347h2v1h-2zM761 348h1v1h-1zM759 349h2v1h-2zM758 350h1v1h-1zM756 351h2v1h-2zM755 352h1v1h-1zM753 353h2v1h-2zM752 354h1v1h-1zM750 355h2v1h-2zM749 356h1v1h-1zM747 357h2v1h-2zM746 358h1v1h-1zM744 359h2v1h-2zM743 360h1v1h-1zM741 361h2v1h-2zM740 362h1v1h-1zM738 363h2v1h-2zM737 364h1v1h-1zM735 365h2v1h-2zM734 366h1v1h-1zM732 367h2v1h-2zM731 368h1v1h-1zM730 369h1v1h-1zM728 370h2v1h-2zM727 371h1v1h-1zM725 372h2v1h-2zM724 373h1v1h-1zM722 374h2v1h-2zM721 375h1v1h-1zM719 376h2v1h-2zM718 377h1v1h-1zM716 378h2v1h-2zM715 379h1v1h-1zM713 380h2v1h-2zM712 381h1v1h-1zM710 382h2v1h-2zM709 383h1v1h-1zM707 384h2v1h-2zM706 385h1v1h-1zM704 386h2v1h-2zM703 387h1v1h-1zM701 388h2v1h-2zM700 389h1v1h-1zM698 390h2v1h-2zM697 391h1v1h-1zM695 392h2v1h-2zM694 393h1v1h-1zM692 394h2v1h-2zM691 395h1v1h-1zM689 396h2v1h-2zM688 397h1v1h-1zM686 398h2v1h-2zM685 399h1v1h-1zM683 400h2v1h-2zM682 401h1v1h-1zM680 402h2v1h-2zM679 403h1v1h-1zM677 404h2v1h-2zM676 405h1v1h-1zM674 406h2v1h-2zM673 407h1v1h-1zM671 408h2v1h-2zM670 409h1v1h-1zM668 410h2v1h-2zM667 411h1v1h-1zM665 412h2v1h-2zM664 413h1v1h-1zM662 414h2v1h-2zM661 415h1v1h-1zM659 416h2v1h-2zM658 417h1v1h-1zM656 418h2v1h-2zM655 419h1v1h-1zM653 420h2v1h-2zM652 421h1v1h-1zM650 422h2v1h-2zM649 423h1v1h-1zM647 424h2v1h-2zM646 425h1v1h-1zM644 426h2v1h-2zM643 427h1v1h-1zM641 428h2v1h-2zM640 429h1v1h-1zM638 430h2v1h-2zM637 431h1v1h-1zM635 432h2v1h-2zM634 433h1v1h-1zM632 434h2v1h-2zM631 435h1v1h-1zM629 436h2v1h-2zM628 437h1v1h-1zM626 438h2v1h-2zM625 439h1v1h-1zM623 440h2v1h-2zM622 441h1v1h-1zM620 442h2v1h-2zM619 443h1v1h-1zM617 444h2v1h-2zM616 445h1v1h-1zM614 446h2v1h-2zM613 447h1v1h-1zM611 448h2v1h-2zM610 449h1v1h-1zM608 450h2v1h-2zM607 451h1v1h-1zM605 452h2v1h-2zM604 453h1v1h-1zM602 454h2v1h-2zM601 455h1v1h-1zM599 456h2v1h-2zM598 457h1v1h-1zM596 458h2v1h-2zM595 459h1v1h-1zM593 460h2v1h-2zM592 461h1v1h-1zM590 462h2v1h-2zM589 463h1v1h-1zM587 464h2v1h-2zM586 465h1v1h-1zM584 466h2v1h-2zM583 467h1v1h-1zM581 468h2v1h-2zM580 469h1v1h-1zM578 470h2v1h-2zM577 471h1v1h-1zM575 472h2v1h-2zM574 473h1v1h-1zM572 474h2v1h-2zM571 475h1v1h-1zM569 476h2v1h-2zM568 477h1v1h-1zM566 478h2v1h-2zM565 479h1v1h-1zM563 480h2v1h-2zM562 481h1v1h-1zM560 482h2v1h-2zM559 483h1v1h-1zM557 484h2v1h-2zM556 485h1v1h-1zM554 486h2v1h-2zM553 487h1v1h-1zM551 488h2v1h-2zM550 489h1v1h-1zM548 490h2v1h-2zM547 491h1v1h-1zM545 492h2v1h-2zM544 493h1v1h-1zM542 494h2v1h-2zM541 495h1v1h-1zM539 496h2v1h-2zM538 497h1v1h-1zM536 498h2v1h-2zM535 499h1v1h-1z" fill="#0000ff" shape-rendering="crispEdges"/>
<rect x="1096" y="106" width="152" height="3" fill="#e8192c"/>
<rect x="1125" y="287" width="5" height="3" fill="#e80010"/>
<path d="M1160.05 69.8 L1152.3 82.9 H1156.55 V97.55 H1163.5 V82.9 H1167.8 Z" fill="none" stroke="#22a850" stroke-width="2.8" stroke-linejoin="round"/>
<rect x="0" y="500" width="1354" height="1" fill="#000" shape-rendering="crispEdges"/>
<rect x="0" y="549" width="1327" height="1" fill="#0000a0" shape-rendering="crispEdges"/>
<path d="M491 504h3v1h-3zM672 504h2v1h-2zM491 505h5v1h-5zM670 505h6v1h-6zM490 506h7v1h-7zM667 506h10v1h-10zM489 507h3v1h-3zM495 507h2v1h-2zM666 507h5v1h-5zM675 507h4v1h-4zM243 508h5v1h-5zM487 508h4v1h-4zM495 508h3v1h-3zM664 508h4v1h-4zM676 508h3v1h-3zM242 509h7v1h-7zM487 509h3v1h-3zM496 509h2v1h-2zM545 509h3v1h-3zM662 509h5v1h-5zM677 509h3v1h-3zM242 510h2v1h-2zM247 510h3v1h-3zM487 510h2v1h-2zM496 510h3v1h-3zM545 510h5v1h-5zM662 510h3v1h-3zM678 510h4v1h-4zM241 511h3v1h-3zM248 511h2v1h-2zM486 511h3v1h-3zM497 511h2v1h-2zM544 511h7v1h-7zM661 511h3v1h-3zM679 511h4v1h-4zM240 512h3v1h-3zM248 512h3v1h-3zM486 512h2v1h-2zM497 512h3v1h-3zM544 512h2v1h-2zM549 512h2v1h-2zM660 512h3v1h-3zM681 512h4v1h-4zM240 513h2v1h-2zM249 513h3v1h-3zM485 513h3v1h-3zM498 513h2v1h-2zM544 513h2v1h-2zM549 513h3v1h-3zM659 513h3v1h-3zM682 513h4v1h-4zM239 514h3v1h-3zM250 514h2v1h-2zM485 514h2v1h-2zM498 514h2v1h-2zM543 514h3v1h-3zM550 514h2v1h-2zM659 514h2v1h-2zM684 514h3v1h-3zM239 515h2v1h-2zM250 515h3v1h-3zM485 515h2v1h-2zM498 515h2v1h-2zM543 515h2v1h-2zM550 515h3v1h-3zM658 515h3v1h-3zM685 515h3v1h-3zM238 516h3v1h-3zM251 516h3v1h-3zM484 516h3v1h-3zM498 516h3v1h-3zM543 516h2v1h-2zM551 516h2v1h-2zM657 516h3v1h-3zM686 516h2v1h-2zM1089 516h5v1h-5zM39 517h5v1h-5zM238 517h2v1h-2zM252 517h2v1h-2zM484 517h2v1h-2zM499 517h2v1h-2zM542 517h3v1h-3zM551 517h3v1h-3zM657 517h2v1h-2zM686 517h3v1h-3zM1086 517h11v1h-11zM38 518h8v1h-8zM238 518h2v1h-2zM252 518h3v1h-3zM483 518h3v1h-3zM499 518h2v1h-2zM542 518h2v1h-2zM552 518h3v1h-3zM656 518h3v1h-3zM687 518h3v1h-3zM1085 518h5v1h-5zM1093 518h5v1h-5zM36 519h4v1h-4zM43 519h5v1h-5zM237 519h3v1h-3zM253 519h2v1h-2zM483 519h2v1h-2zM499 519h2v1h-2zM542 519h2v1h-2zM552 519h3v1h-3zM656 519h2v1h-2zM688 519h2v1h-2zM1084 519h3v1h-3zM1096 519h3v1h-3zM35 520h4v1h-4zM45 520h4v1h-4zM237 520h2v1h-2zM253 520h3v1h-3zM483 520h2v1h-2zM499 520h3v1h-3zM542 520h2v1h-2zM553 520h3v1h-3zM655 520h3v1h-3zM688 520h3v1h-3zM1084 520h2v1h-2zM1097 520h3v1h-3zM34 521h3v1h-3zM47 521h2v1h-2zM237 521h2v1h-2zM254 521h2v1h-2zM482 521h3v1h-3zM500 521h2v1h-2zM541 521h3v1h-3zM554 521h2v1h-2zM569 521h3v1h-3zM655 521h2v1h-2zM689 521h2v1h-2zM1083 521h3v1h-3zM1098 521h3v1h-3zM33 522h3v1h-3zM47 522h2v1h-2zM236 522h3v1h-3zM254 522h3v1h-3zM482 522h2v1h-2zM500 522h2v1h-2zM541 522h2v1h-2zM554 522h3v1h-3zM568 522h5v1h-5zM654 522h3v1h-3zM689 522h3v1h-3zM1082 522h3v1h-3zM1099 522h3v1h-3zM32 523h3v1h-3zM47 523h3v1h-3zM236 523h2v1h-2zM255 523h3v1h-3zM482 523h2v1h-2zM500 523h2v1h-2zM541 523h2v1h-2zM555 523h2v1h-2zM567 523h3v1h-3zM571 523h3v1h-3zM654 523h2v1h-2zM690 523h2v1h-2zM1082 523h2v1h-2zM1100 523h3v1h-3zM32 524h2v1h-2zM48 524h2v1h-2zM235 524h3v1h-3zM255 524h4v1h-4zM482 524h2v1h-2zM500 524h3v1h-3zM541 524h2v1h-2zM555 524h3v1h-3zM566 524h3v1h-3zM572 524h3v1h-3zM654 524h2v1h-2zM690 524h3v1h-3zM1081 524h3v1h-3zM1101 524h3v1h-3zM31 525h3v1h-3zM48 525h2v1h-2zM235 525h2v1h-2zM257 525h3v1h-3zM461 525h2v1h-2zM481 525h3v1h-3zM501 525h2v1h-2zM541 525h2v1h-2zM556 525h3v1h-3zM565 525h3v1h-3zM573 525h3v1h-3zM653 525h3v1h-3zM691 525h2v1h-2zM1080 525h3v1h-3zM1102 525h2v1h-2zM30 526h3v1h-3zM48 526h3v1h-3zM235 526h2v1h-2zM258 526h5v1h-5zM280 526h4v1h-4zM460 526h4v1h-4zM481 526h2v1h-2zM501 526h2v1h-2zM540 526h3v1h-3zM557 526h2v1h-2zM564 526h3v1h-3zM574 526h2v1h-2zM653 526h2v1h-2zM691 526h2v1h-2zM1080 526h2v1h-2zM1102 526h3v1h-3zM30 527h2v1h-2zM49 527h2v1h-2zM234 527h3v1h-3zM259 527h7v1h-7zM277 527h8v1h-8zM459 527h6v1h-6zM481 527h2v1h-2zM501 527h2v1h-2zM540 527h2v1h-2zM557 527h5v1h-5zM564 527h2v1h-2zM574 527h3v1h-3zM652 527h3v1h-3zM691 527h3v1h-3zM1079 527h3v1h-3zM1103 527h3v1h-3zM29 528h3v1h-3zM49 528h2v1h-2zM234 528h2v1h-2zM262 528h8v1h-8zM273 528h8v1h-8zM283 528h4v1h-4zM458 528h3v1h-3zM463 528h2v1h-2zM480 528h3v1h-3zM501 528h3v1h-3zM540 528h2v1h-2zM558 528h8v1h-8zM575 528h2v1h-2zM652 528h2v1h-2zM692 528h2v1h-2zM1079 528h2v1h-2zM1104 528h2v1h-2zM29 529h2v1h-2zM49 529h3v1h-3zM127 529h6v1h-6zM234 529h2v1h-2zM265 529h13v1h-13zM284 529h5v1h-5zM458 529h2v1h-2zM463 529h3v1h-3zM480 529h2v1h-2zM502 529h2v1h-2zM540 529h2v1h-2zM561 529h4v1h-4zM575 529h2v1h-2zM652 529h2v1h-2zM692 529h3v1h-3zM856 529h8v1h-8zM1078 529h3v1h-3zM1104 529h3v1h-3zM28 530h3v1h-3zM50 530h2v1h-2zM125 530h9v1h-9zM233 530h3v1h-3zM268 530h6v1h-6zM286 530h3v1h-3zM458 530h2v1h-2zM464 530h2v1h-2zM480 530h2v1h-2zM502 530h2v1h-2zM539 530h3v1h-3zM575 530h3v1h-3zM652 530h2v1h-2zM693 530h2v1h-2zM853 530h12v1h-12zM1078 530h2v1h-2zM1105 530h2v1h-2zM28 531h2v1h-2zM50 531h2v1h-2zM124 531h4v1h-4zM132 531h3v1h-3zM233 531h2v1h-2zM287 531h3v1h-3zM457 531h3v1h-3zM464 531h3v1h-3zM480 531h2v1h-2zM502 531h3v1h-3zM539 531h2v1h-2zM576 531h2v1h-2zM652 531h2v1h-2zM693 531h3v1h-3zM851 531h6v1h-6zM863 531h3v1h-3zM1078 531h2v1h-2zM1105 531h3v1h-3zM27 532h3v1h-3zM50 532h3v1h-3zM123 532h3v1h-3zM133 532h3v1h-3zM233 532h2v1h-2zM288 532h3v1h-3zM457 532h2v1h-2zM465 532h2v1h-2zM479 532h3v1h-3zM503 532h2v1h-2zM538 532h3v1h-3zM576 532h3v1h-3zM651 532h3v1h-3zM694 532h3v1h-3zM851 532h3v1h-3zM864 532h4v1h-4zM1077 532h3v1h-3zM1106 532h2v1h-2zM27 533h2v1h-2zM51 533h2v1h-2zM122 533h3v1h-3zM134 533h3v1h-3zM232 533h3v1h-3zM289 533h3v1h-3zM457 533h2v1h-2zM465 533h3v1h-3zM479 533h2v1h-2zM503 533h2v1h-2zM538 533h3v1h-3zM577 533h2v1h-2zM651 533h2v1h-2zM695 533h3v1h-3zM850 533h3v1h-3zM865 533h4v1h-4zM1077 533h2v1h-2zM1106 533h3v1h-3zM27 534h2v1h-2zM51 534h2v1h-2zM121 534h3v1h-3zM135 534h3v1h-3zM232 534h2v1h-2zM290 534h3v1h-3zM456 534h3v1h-3zM466 534h2v1h-2zM478 534h3v1h-3zM503 534h2v1h-2zM538 534h2v1h-2zM577 534h3v1h-3zM651 534h2v1h-2zM696 534h2v1h-2zM849 534h3v1h-3zM867 534h2v1h-2zM1076 534h3v1h-3zM1107 534h2v1h-2zM26 535h3v1h-3zM51 535h3v1h-3zM121 535h2v1h-2zM136 535h2v1h-2zM232 535h2v1h-2zM291 535h3v1h-3zM456 535h2v1h-2zM466 535h3v1h-3zM478 535h2v1h-2zM503 535h3v1h-3zM537 535h3v1h-3zM578 535h3v1h-3zM651 535h2v1h-2zM696 535h3v1h-3zM847 535h4v1h-4zM867 535h3v1h-3zM1076 535h2v1h-2zM1107 535h3v1h-3zM26 536h2v1h-2zM52 536h2v1h-2zM120 536h3v1h-3zM136 536h3v1h-3zM231 536h3v1h-3zM292 536h2v1h-2zM456 536h2v1h-2zM467 536h2v1h-2zM477 536h3v1h-3zM504 536h2v1h-2zM537 536h2v1h-2zM579 536h3v1h-3zM650 536h3v1h-3zM697 536h3v1h-3zM847 536h3v1h-3zM868 536h3v1h-3zM1076 536h2v1h-2zM1108 536h2v1h-2zM26 537h2v1h-2zM52 537h3v1h-3zM119 537h3v1h-3zM137 537h2v1h-2zM231 537h2v1h-2zM292 537h3v1h-3zM455 537h3v1h-3zM467 537h3v1h-3zM477 537h2v1h-2zM504 537h2v1h-2zM537 537h2v1h-2zM580 537h3v1h-3zM650 537h2v1h-2zM698 537h3v1h-3zM846 537h3v1h-3zM869 537h2v1h-2zM990 537h2v1h-2zM1075 537h3v1h-3zM1108 537h2v1h-2zM26 538h2v1h-2zM53 538h2v1h-2zM119 538h2v1h-2zM137 538h3v1h-3zM231 538h2v1h-2zM293 538h3v1h-3zM455 538h2v1h-2zM467 538h3v1h-3zM476 538h3v1h-3zM504 538h3v1h-3zM537 538h2v1h-2zM581 538h3v1h-3zM650 538h2v1h-2zM699 538h3v1h-3zM846 538h2v1h-2zM869 538h3v1h-3zM986 538h8v1h-8zM1075 538h2v1h-2zM1108 538h3v1h-3zM25 539h3v1h-3zM53 539h3v1h-3zM118 539h3v1h-3zM138 539h2v1h-2zM230 539h3v1h-3zM294 539h3v1h-3zM455 539h2v1h-2zM468 539h3v1h-3zM476 539h2v1h-2zM505 539h2v1h-2zM537 539h2v1h-2zM582 539h5v1h-5zM650 539h2v1h-2zM700 539h3v1h-3zM845 539h3v1h-3zM870 539h3v1h-3zM983 539h14v1h-14zM1075 539h2v1h-2zM1109 539h2v1h-2zM25 540h2v1h-2zM54 540h2v1h-2zM117 540h3v1h-3zM138 540h3v1h-3zM230 540h2v1h-2zM295 540h3v1h-3zM357 540h3v1h-3zM455 540h2v1h-2zM469 540h2v1h-2zM475 540h3v1h-3zM505 540h2v1h-2zM537 540h2v1h-2zM583 540h7v1h-7zM650 540h2v1h-2zM701 540h3v1h-3zM845 540h2v1h-2zM871 540h3v1h-3zM982 540h5v1h-5zM993 540h10v1h-10zM1075 540h2v1h-2zM1109 540h3v1h-3zM25 541h2v1h-2zM54 541h3v1h-3zM117 541h2v1h-2zM139 541h3v1h-3zM230 541h2v1h-2zM296 541h4v1h-4zM356 541h7v1h-7zM454 541h3v1h-3zM469 541h3v1h-3zM475 541h2v1h-2zM505 541h3v1h-3zM536 541h3v1h-3zM586 541h5v1h-5zM649 541h3v1h-3zM702 541h3v1h-3zM786 541h2v1h-2zM844 541h3v1h-3zM872 541h4v1h-4zM981 541h3v1h-3zM996 541h9v1h-9zM1074 541h3v1h-3zM1110 541h2v1h-2zM25 542h2v1h-2zM55 542h2v1h-2zM116 542h3v1h-3zM139 542h3v1h-3zM229 542h3v1h-3zM297 542h3v1h-3zM355 542h3v1h-3zM359 542h5v1h-5zM454 542h2v1h-2zM470 542h7v1h-7zM506 542h2v1h-2zM536 542h2v1h-2zM588 542h4v1h-4zM649 542h2v1h-2zM703 542h2v1h-2zM785 542h7v1h-7zM844 542h2v1h-2zM873 542h4v1h-4zM980 542h3v1h-3zM1002 542h4v1h-4zM1074 542h2v1h-2zM1110 542h2v1h-2zM24 543h3v1h-3zM55 543h3v1h-3zM115 543h3v1h-3zM140 543h3v1h-3zM229 543h2v1h-2zM298 543h3v1h-3zM355 543h2v1h-2zM362 543h3v1h-3zM454 543h2v1h-2zM470 543h6v1h-6zM506 543h2v1h-2zM536 543h2v1h-2zM590 543h4v1h-4zM649 543h2v1h-2zM703 543h3v1h-3zM784 543h10v1h-10zM843 543h3v1h-3zM875 543h4v1h-4zM979 543h3v1h-3zM1004 543h3v1h-3zM1074 543h2v1h-2zM1110 543h3v1h-3zM24 544h2v1h-2zM56 544h3v1h-3zM114 544h3v1h-3zM141 544h3v1h-3zM228 544h3v1h-3zM299 544h3v1h-3zM354 544h3v1h-3zM363 544h4v1h-4zM454 544h2v1h-2zM506 544h3v1h-3zM536 544h2v1h-2zM591 544h4v1h-4zM649 544h2v1h-2zM704 544h3v1h-3zM743 544h4v1h-4zM783 544h3v1h-3zM791 544h4v1h-4zM843 544h2v1h-2zM876 544h8v1h-8zM931 544h8v1h-8zM978 544h3v1h-3zM1005 544h2v1h-2zM1073 544h3v1h-3zM1111 544h2v1h-2zM24 545h2v1h-2zM57 545h2v1h-2zM100 545h5v1h-5zM113 545h3v1h-3zM142 545h2v1h-2zM228 545h2v1h-2zM300 545h2v1h-2zM353 545h3v1h-3zM364 545h5v1h-5zM453 545h3v1h-3zM507 545h2v1h-2zM536 545h2v1h-2zM593 545h3v1h-3zM648 545h3v1h-3zM705 545h2v1h-2zM741 545h8v1h-8zM782 545h3v1h-3zM793 545h4v1h-4zM842 545h3v1h-3zM877 545h11v1h-11zM929 545h11v1h-11zM977 545h3v1h-3zM1005 545h3v1h-3zM1073 545h2v1h-2zM1111 545h2v1h-2zM24 546h2v1h-2zM57 546h3v1h-3zM97 546h11v1h-11zM109 546h6v1h-6zM142 546h3v1h-3zM228 546h2v1h-2zM300 546h3v1h-3zM352 546h3v1h-3zM365 546h7v1h-7zM453 546h2v1h-2zM507 546h2v1h-2zM536 546h2v1h-2zM594 546h4v1h-4zM648 546h3v1h-3zM705 546h3v1h-3zM740 546h4v1h-4zM746 546h5v1h-5zM781 546h3v1h-3zM794 546h4v1h-4zM842 546h2v1h-2zM883 546h7v1h-7zM927 546h5v1h-5zM938 546h3v1h-3zM976 546h3v1h-3zM1006 546h3v1h-3zM1073 546h2v1h-2zM1111 546h3v1h-3zM23 547h3v1h-3zM58 547h3v1h-3zM94 547h7v1h-7zM104 547h10v1h-10zM143 547h4v1h-4zM227 547h3v1h-3zM301 547h3v1h-3zM351 547h3v1h-3zM368 547h10v1h-10zM453 547h2v1h-2zM507 547h3v1h-3zM535 547h3v1h-3zM595 547h4v1h-4zM648 547h2v1h-2zM706 547h2v1h-2zM740 547h2v1h-2zM748 547h5v1h-5zM764 547h4v1h-4zM780 547h3v1h-3zM796 547h2v1h-2zM841 547h3v1h-3zM887 547h4v1h-4zM925 547h5v1h-5zM939 547h2v1h-2zM975 547h3v1h-3zM1006 547h3v1h-3zM1072 547h3v1h-3zM1112 547h2v1h-2zM23 548h2v1h-2zM59 548h2v1h-2zM92 548h6v1h-6zM107 548h3v1h-3zM144 548h5v1h-5zM227 548h2v1h-2zM302 548h3v1h-3zM350 548h4v1h-4zM370 548h9v1h-9zM452 548h3v1h-3zM508 548h2v1h-2zM535 548h2v1h-2zM597 548h3v1h-3zM648 548h2v1h-2zM706 548h3v1h-3zM739 548h3v1h-3zM750 548h4v1h-4zM760 548h10v1h-10zM779 548h3v1h-3zM796 548h3v1h-3zM840 548h3v1h-3zM889 548h4v1h-4zM922 548h6v1h-6zM939 548h3v1h-3zM974 548h3v1h-3zM1007 548h2v1h-2zM1072 548h2v1h-2zM1112 548h3v1h-3zM23 549h2v1h-2zM59 549h3v1h-3zM89 549h6v1h-6zM146 549h5v1h-5zM226 549h3v1h-3zM303 549h3v1h-3zM349 549h3v1h-3zM377 549h3v1h-3zM452 549h2v1h-2zM508 549h2v1h-2zM535 549h2v1h-2zM598 549h3v1h-3zM648 549h2v1h-2zM707 549h3v1h-3zM738 549h3v1h-3zM752 549h13v1h-13zM767 549h6v1h-6zM778 549h3v1h-3zM797 549h2v1h-2zM840 549h2v1h-2zM890 549h4v1h-4zM920 549h6v1h-6zM940 549h2v1h-2zM974 549h2v1h-2zM1007 549h3v1h-3zM1072 549h2v1h-2zM1113 549h2v1h-2zM23 550h2v1h-2zM60 550h3v1h-3zM87 550h6v1h-6zM148 550h6v1h-6zM226 550h2v1h-2zM303 550h5v1h-5zM348 550h3v1h-3zM378 550h3v1h-3zM452 550h2v1h-2zM508 550h3v1h-3zM535 550h2v1h-2zM599 550h2v1h-2zM647 550h3v1h-3zM708 550h2v1h-2zM737 550h3v1h-3zM753 550h8v1h-8zM769 550h11v1h-11zM797 550h3v1h-3zM838 550h4v1h-4zM892 550h4v1h-4zM917 550h6v1h-6zM940 550h3v1h-3zM973 550h3v1h-3zM1008 550h2v1h-2zM1071 550h3v1h-3zM1113 550h3v1h-3zM22 551h3v1h-3zM61 551h3v1h-3zM86 551h4v1h-4zM150 551h7v1h-7zM225 551h3v1h-3zM305 551h4v1h-4zM347 551h3v1h-3zM379 551h2v1h-2zM451 551h3v1h-3zM509 551h2v1h-2zM535 551h2v1h-2zM599 551h3v1h-3zM647 551h2v1h-2zM708 551h3v1h-3zM737 551h2v1h-2zM772 551h7v1h-7zM798 551h2v1h-2zM833 551h8v1h-8zM893 551h4v1h-4zM914 551h7v1h-7zM941 551h2v1h-2zM972 551h3v1h-3zM1008 551h2v1h-2zM1071 551h2v1h-2zM1114 551h2v1h-2zM22 552h2v1h-2zM62 552h2v1h-2zM84 552h4v1h-4zM153 552h6v1h-6zM225 552h2v1h-2zM307 552h4v1h-4zM345 552h5v1h-5zM379 552h3v1h-3zM451 552h2v1h-2zM509 552h2v1h-2zM534 552h3v1h-3zM600 552h2v1h-2zM647 552h2v1h-2zM709 552h2v1h-2zM736 552h3v1h-3zM798 552h3v1h-3zM832 552h7v1h-7zM895 552h4v1h-4zM913 552h5v1h-5zM941 552h3v1h-3zM971 552h3v1h-3zM1008 552h2v1h-2zM1071 552h2v1h-2zM1114 552h3v1h-3zM22 553h2v1h-2zM62 553h3v1h-3zM83 553h4v1h-4zM156 553h4v1h-4zM224 553h3v1h-3zM308 553h4v1h-4zM344 553h4v1h-4zM380 553h2v1h-2zM450 553h3v1h-3zM509 553h3v1h-3zM534 553h2v1h-2zM600 553h2v1h-2zM647 553h2v1h-2zM709 553h3v1h-3zM735 553h3v1h-3zM799 553h3v1h-3zM831 553h3v1h-3zM896 553h5v1h-5zM912 553h4v1h-4zM942 553h3v1h-3zM970 553h3v1h-3zM1008 553h3v1h-3zM1070 553h3v1h-3zM1114 553h3v1h-3zM22 554h2v1h-2zM63 554h3v1h-3zM81 554h4v1h-4zM158 554h3v1h-3zM224 554h2v1h-2zM310 554h3v1h-3zM342 554h4v1h-4zM380 554h3v1h-3zM450 554h2v1h-2zM510 554h2v1h-2zM534 554h2v1h-2zM600 554h3v1h-3zM646 554h3v1h-3zM710 554h2v1h-2zM734 554h3v1h-3zM800 554h2v1h-2zM831 554h2v1h-2zM898 554h4v1h-4zM911 554h3v1h-3zM943 554h2v1h-2zM969 554h3v1h-3zM1009 554h2v1h-2zM1070 554h2v1h-2zM1115 554h3v1h-3zM22 555h2v1h-2zM64 555h3v1h-3zM80 555h4v1h-4zM159 555h3v1h-3zM223 555h3v1h-3zM311 555h3v1h-3zM341 555h4v1h-4zM381 555h2v1h-2zM450 555h2v1h-2zM510 555h2v1h-2zM534 555h2v1h-2zM601 555h2v1h-2zM646 555h2v1h-2zM710 555h3v1h-3zM733 555h3v1h-3zM800 555h2v1h-2zM830 555h3v1h-3zM900 555h4v1h-4zM909 555h4v1h-4zM943 555h3v1h-3zM968 555h3v1h-3zM1009 555h2v1h-2zM1040 555h2v1h-2zM1069 555h3v1h-3zM1116 555h3v1h-3zM21 556h3v1h-3zM65 556h3v1h-3zM79 556h3v1h-3zM160 556h4v1h-4zM223 556h2v1h-2zM312 556h4v1h-4zM339 556h4v1h-4zM381 556h3v1h-3zM449 556h3v1h-3zM510 556h2v1h-2zM534 556h2v1h-2zM601 556h2v1h-2zM646 556h2v1h-2zM711 556h3v1h-3zM732 556h3v1h-3zM800 556h2v1h-2zM829 556h3v1h-3zM901 556h11v1h-11zM944 556h3v1h-3zM967 556h3v1h-3zM1009 556h3v1h-3zM1037 556h6v1h-6zM1069 556h2v1h-2zM1117 556h3v1h-3zM21 557h2v1h-2zM66 557h2v1h-2zM78 557h3v1h-3zM161 557h7v1h-7zM222 557h3v1h-3zM313 557h4v1h-4zM338 557h4v1h-4zM382 557h3v1h-3zM449 557h2v1h-2zM510 557h3v1h-3zM534 557h2v1h-2zM601 557h2v1h-2zM646 557h2v1h-2zM712 557h2v1h-2zM731 557h3v1h-3zM800 557h3v1h-3zM828 557h3v1h-3zM903 557h7v1h-7zM945 557h3v1h-3zM957 557h2v1h-2zM966 557h3v1h-3zM1010 557h2v1h-2zM1035 557h9v1h-9zM1069 557h2v1h-2zM1118 557h3v1h-3zM21 558h2v1h-2zM66 558h3v1h-3zM76 558h4v1h-4zM162 558h9v1h-9zM222 558h2v1h-2zM315 558h4v1h-4zM336 558h4v1h-4zM383 558h2v1h-2zM449 558h2v1h-2zM511 558h2v1h-2zM533 558h3v1h-3zM601 558h3v1h-3zM645 558h3v1h-3zM712 558h3v1h-3zM730 558h3v1h-3zM801 558h2v1h-2zM828 558h2v1h-2zM945 558h4v1h-4zM956 558h4v1h-4zM965 558h3v1h-3zM1010 558h2v1h-2zM1033 558h5v1h-5zM1042 558h3v1h-3zM1068 558h3v1h-3zM1118 558h4v1h-4zM21 559h2v1h-2zM67 559h3v1h-3zM73 559h6v1h-6zM167 559h6v1h-6zM221 559h3v1h-3zM316 559h4v1h-4zM335 559h4v1h-4zM383 559h3v1h-3zM423 559h7v1h-7zM448 559h3v1h-3zM511 559h2v1h-2zM533 559h2v1h-2zM602 559h2v1h-2zM645 559h2v1h-2zM713 559h4v1h-4zM729 559h3v1h-3zM801 559h2v1h-2zM827 559h3v1h-3zM947 559h3v1h-3zM955 559h7v1h-7zM963 559h4v1h-4zM1010 559h3v1h-3zM1033 559h3v1h-3zM1043 559h4v1h-4zM1068 559h2v1h-2zM1120 559h4v1h-4zM21 560h2v1h-2zM68 560h9v1h-9zM170 560h5v1h-5zM176 560h6v1h-6zM220 560h3v1h-3zM318 560h4v1h-4zM334 560h3v1h-3zM384 560h3v1h-3zM422 560h9v1h-9zM448 560h2v1h-2zM511 560h2v1h-2zM533 560h2v1h-2zM602 560h2v1h-2zM644 560h3v1h-3zM714 560h5v1h-5zM727 560h4v1h-4zM801 560h3v1h-3zM827 560h2v1h-2zM948 560h3v1h-3zM953 560h4v1h-4zM959 560h7v1h-7zM1011 560h2v1h-2zM1032 560h3v1h-3zM1044 560h4v1h-4zM1068 560h2v1h-2zM1121 560h4v1h-4zM20 561h3v1h-3zM69 561h5v1h-5zM172 561h11v1h-11zM220 561h2v1h-2zM319 561h6v1h-6zM332 561h4v1h-4zM385 561h3v1h-3zM422 561h2v1h-2zM429 561h2v1h-2zM448 561h2v1h-2zM511 561h2v1h-2zM533 561h2v1h-2zM602 561h3v1h-3zM643 561h3v1h-3zM716 561h4v1h-4zM726 561h4v1h-4zM802 561h2v1h-2zM826 561h3v1h-3zM949 561h7v1h-7zM961 561h3v1h-3zM1011 561h3v1h-3zM1031 561h3v1h-3zM1046 561h3v1h-3zM1067 561h3v1h-3zM1123 561h3v1h-3zM20 562h2v1h-2zM174 562h3v1h-3zM181 562h2v1h-2zM219 562h3v1h-3zM321 562h8v1h-8zM331 562h4v1h-4zM386 562h3v1h-3zM421 562h3v1h-3zM429 562h2v1h-2zM448 562h2v1h-2zM511 562h3v1h-3zM533 562h2v1h-2zM603 562h2v1h-2zM642 562h3v1h-3zM718 562h10v1h-10zM802 562h2v1h-2zM826 562h2v1h-2zM950 562h4v1h-4zM1012 562h2v1h-2zM1030 562h3v1h-3zM1047 562h4v1h-4zM1067 562h2v1h-2zM1124 562h2v1h-2zM20 563h2v1h-2zM181 563h3v1h-3zM219 563h2v1h-2zM324 563h9v1h-9zM387 563h4v1h-4zM420 563h3v1h-3zM429 563h3v1h-3zM447 563h3v1h-3zM512 563h2v1h-2zM532 563h3v1h-3zM603 563h2v1h-2zM641 563h3v1h-3zM719 563h8v1h-8zM802 563h2v1h-2zM825 563h3v1h-3zM1012 563h3v1h-3zM1029 563h3v1h-3zM1048 563h4v1h-4zM1066 563h3v1h-3zM20 564h2v1h-2zM182 564h3v1h-3zM217 564h4v1h-4zM328 564h4v1h-4zM388 564h4v1h-4zM420 564h2v1h-2zM430 564h2v1h-2zM447 564h2v1h-2zM512 564h2v1h-2zM532 564h2v1h-2zM603 564h2v1h-2zM640 564h3v1h-3zM802 564h3v1h-3zM825 564h2v1h-2zM1013 564h2v1h-2zM1028 564h3v1h-3zM1050 564h3v1h-3zM1066 564h3v1h-3zM19 565h3v1h-3zM183 565h2v1h-2zM216 565h4v1h-4zM390 565h4v1h-4zM419 565h3v1h-3zM430 565h3v1h-3zM447 565h2v1h-2zM512 565h2v1h-2zM532 565h2v1h-2zM603 565h3v1h-3zM640 565h2v1h-2zM803 565h2v1h-2zM824 565h3v1h-3zM1013 565h3v1h-3zM1028 565h2v1h-2zM1051 565h2v1h-2zM1066 565h2v1h-2zM19 566h2v1h-2zM183 566h3v1h-3zM214 566h4v1h-4zM391 566h4v1h-4zM419 566h2v1h-2zM431 566h2v1h-2zM446 566h3v1h-3zM512 566h2v1h-2zM532 566h2v1h-2zM604 566h2v1h-2zM639 566h3v1h-3zM803 566h2v1h-2zM824 566h2v1h-2zM1014 566h2v1h-2zM1027 566h3v1h-3zM1051 566h3v1h-3zM1065 566h3v1h-3zM19 567h2v1h-2zM184 567h2v1h-2zM213 567h4v1h-4zM393 567h2v1h-2zM418 567h3v1h-3zM431 567h3v1h-3zM446 567h2v1h-2zM512 567h3v1h-3zM532 567h2v1h-2zM604 567h2v1h-2zM638 567h3v1h-3zM803 567h3v1h-3zM823 567h3v1h-3zM1014 567h7v1h-7zM1026 567h3v1h-3zM1052 567h3v1h-3zM1065 567h2v1h-2zM0 568h1v1h-1zM19 568h2v1h-2zM184 568h3v1h-3zM212 568h3v1h-3zM393 568h3v1h-3zM418 568h2v1h-2zM432 568h2v1h-2zM446 568h2v1h-2zM513 568h2v1h-2zM531 568h3v1h-3zM604 568h2v1h-2zM638 568h2v1h-2zM804 568h2v1h-2zM822 568h3v1h-3zM1015 568h13v1h-13zM1053 568h3v1h-3zM1064 568h3v1h-3zM0 569h1v1h-1zM19 569h2v1h-2zM185 569h2v1h-2zM211 569h3v1h-3zM394 569h3v1h-3zM417 569h3v1h-3zM432 569h2v1h-2zM446 569h2v1h-2zM513 569h2v1h-2zM531 569h2v1h-2zM604 569h3v1h-3zM637 569h3v1h-3zM804 569h2v1h-2zM822 569h3v1h-3zM1020 569h7v1h-7zM1054 569h3v1h-3zM1064 569h2v1h-2zM0 570h2v1h-2zM18 570h3v1h-3zM185 570h3v1h-3zM209 570h4v1h-4zM395 570h2v1h-2zM417 570h2v1h-2zM432 570h3v1h-3zM445 570h3v1h-3zM513 570h2v1h-2zM531 570h2v1h-2zM605 570h2v1h-2zM636 570h3v1h-3zM804 570h3v1h-3zM821 570h3v1h-3zM1055 570h3v1h-3zM1063 570h3v1h-3zM0 571h2v1h-2zM18 571h2v1h-2zM186 571h2v1h-2zM209 571h3v1h-3zM395 571h3v1h-3zM416 571h3v1h-3zM433 571h2v1h-2zM445 571h2v1h-2zM513 571h3v1h-3zM531 571h2v1h-2zM605 571h2v1h-2zM635 571h3v1h-3zM805 571h2v1h-2zM820 571h3v1h-3zM1056 571h3v1h-3zM1063 571h2v1h-2zM0 572h3v1h-3zM18 572h2v1h-2zM186 572h3v1h-3zM208 572h3v1h-3zM396 572h2v1h-2zM416 572h2v1h-2zM433 572h3v1h-3zM444 572h3v1h-3zM514 572h2v1h-2zM531 572h2v1h-2zM605 572h2v1h-2zM633 572h4v1h-4zM805 572h2v1h-2zM819 572h3v1h-3zM1057 572h3v1h-3zM1061 572h4v1h-4zM1 573h2v1h-2zM18 573h2v1h-2zM187 573h2v1h-2zM208 573h2v1h-2zM396 573h3v1h-3zM415 573h3v1h-3zM434 573h2v1h-2zM444 573h2v1h-2zM514 573h2v1h-2zM530 573h3v1h-3zM605 573h3v1h-3zM631 573h6v1h-6zM805 573h3v1h-3zM819 573h2v1h-2zM1058 573h6v1h-6zM1 574h3v1h-3zM17 574h3v1h-3zM187 574h2v1h-2zM207 574h3v1h-3zM397 574h2v1h-2zM415 574h2v1h-2zM434 574h3v1h-3zM444 574h2v1h-2zM514 574h2v1h-2zM530 574h2v1h-2zM606 574h2v1h-2zM626 574h8v1h-8zM806 574h2v1h-2zM818 574h3v1h-3zM1059 574h3v1h-3zM2 575h2v1h-2zM17 575h3v1h-3zM187 575h3v1h-3zM207 575h2v1h-2zM397 575h3v1h-3zM415 575h2v1h-2zM434 575h4v1h-4zM443 575h3v1h-3zM514 575h2v1h-2zM530 575h2v1h-2zM606 575h2v1h-2zM624 575h8v1h-8zM806 575h2v1h-2zM817 575h3v1h-3zM2 576h3v1h-3zM17 576h2v1h-2zM188 576h3v1h-3zM206 576h3v1h-3zM398 576h2v1h-2zM415 576h2v1h-2zM436 576h3v1h-3zM443 576h2v1h-2zM514 576h3v1h-3zM530 576h2v1h-2zM606 576h2v1h-2zM624 576h3v1h-3zM806 576h3v1h-3zM816 576h3v1h-3zM3 577h2v1h-2zM16 577h3v1h-3zM189 577h2v1h-2zM206 577h2v1h-2zM398 577h3v1h-3zM414 577h3v1h-3zM437 577h8v1h-8zM515 577h2v1h-2zM529 577h3v1h-3zM606 577h3v1h-3zM623 577h3v1h-3zM807 577h2v1h-2zM815 577h3v1h-3zM3 578h3v1h-3zM16 578h2v1h-2zM189 578h3v1h-3zM206 578h2v1h-2zM399 578h2v1h-2zM414 578h2v1h-2zM438 578h7v1h-7zM515 578h2v1h-2zM529 578h2v1h-2zM607 578h2v1h-2zM622 578h3v1h-3zM807 578h3v1h-3zM815 578h2v1h-2zM4 579h2v1h-2zM16 579h2v1h-2zM190 579h2v1h-2zM205 579h3v1h-3zM399 579h3v1h-3zM414 579h2v1h-2zM515 579h3v1h-3zM529 579h2v1h-2zM607 579h2v1h-2zM621 579h3v1h-3zM808 579h2v1h-2zM814 579h3v1h-3zM4 580h3v1h-3zM15 580h3v1h-3zM190 580h3v1h-3zM205 580h2v1h-2zM400 580h2v1h-2zM414 580h2v1h-2zM516 580h2v1h-2zM529 580h2v1h-2zM607 580h3v1h-3zM620 580h3v1h-3zM808 580h8v1h-8zM5 581h2v1h-2zM15 581h2v1h-2zM191 581h6v1h-6zM204 581h3v1h-3zM400 581h3v1h-3zM414 581h2v1h-2zM516 581h2v1h-2zM529 581h2v1h-2zM608 581h2v1h-2zM619 581h3v1h-3zM809 581h6v1h-6zM5 582h3v1h-3zM15 582h2v1h-2zM191 582h9v1h-9zM204 582h2v1h-2zM401 582h2v1h-2zM413 582h3v1h-3zM516 582h2v1h-2zM528 582h3v1h-3zM608 582h3v1h-3zM619 582h3v1h-3zM6 583h2v1h-2zM14 583h3v1h-3zM196 583h10v1h-10zM401 583h2v1h-2zM413 583h2v1h-2zM516 583h3v1h-3zM528 583h2v1h-2zM609 583h2v1h-2zM618 583h3v1h-3zM6 584h3v1h-3zM13 584h4v1h-4zM199 584h6v1h-6zM401 584h2v1h-2zM413 584h2v1h-2zM517 584h2v1h-2zM528 584h2v1h-2zM609 584h2v1h-2zM617 584h3v1h-3zM7 585h8v1h-8zM202 585h3v1h-3zM401 585h2v1h-2zM413 585h2v1h-2zM517 585h2v1h-2zM528 585h2v1h-2zM609 585h3v1h-3zM616 585h3v1h-3zM7 586h7v1h-7zM401 586h3v1h-3zM413 586h2v1h-2zM517 586h3v1h-3zM527 586h3v1h-3zM610 586h2v1h-2zM615 586h3v1h-3zM11 587h2v1h-2zM402 587h2v1h-2zM413 587h2v1h-2zM518 587h2v1h-2zM527 587h2v1h-2zM610 587h7v1h-7zM402 588h2v1h-2zM412 588h3v1h-3zM518 588h2v1h-2zM527 588h2v1h-2zM610 588h6v1h-6zM402 589h2v1h-2zM412 589h2v1h-2zM518 589h3v1h-3zM526 589h3v1h-3zM402 590h3v1h-3zM412 590h2v1h-2zM519 590h2v1h-2zM526 590h2v1h-2zM403 591h2v1h-2zM412 591h2v1h-2zM519 591h3v1h-3zM526 591h2v1h-2zM403 592h2v1h-2zM412 592h2v1h-2zM520 592h2v1h-2zM525 592h3v1h-3zM403 593h2v1h-2zM411 593h3v1h-3zM520 593h3v1h-3zM525 593h2v1h-2zM403 594h2v1h-2zM411 594h2v1h-2zM521 594h6v1h-6zM403 595h3v1h-3zM410 595h3v1h-3zM521 595h5v1h-5zM404 596h2v1h-2zM410 596h2v1h-2zM404 597h2v1h-2zM410 597h2v1h-2zM404 598h3v1h-3zM409 598h3v1h-3zM405 599h2v1h-2zM409 599h2v1h-2zM405 600h6v1h-6zM405 601h5v1h-5z" fill="#0000ff" shape-rendering="crispEdges"/>
<path d="M0 551h1v1h-1zM0 552h2v1h-2zM0 553h2v1h-2zM0 554h3v1h-3zM1 555h3v1h-3zM2 556h2v1h-2zM2 557h3v1h-3zM3 558h3v1h-3zM4 559h2v1h-2zM4 560h3v1h-3zM5 561h3v1h-3zM6 562h3v1h-3zM7 563h2v1h-2zM7 564h3v1h-3zM8 565h3v1h-3zM9 566h3v1h-3zM10 567h2v1h-2zM10 568h3v1h-3zM11 569h5v1h-5zM12 570h8v1h-8zM15 571h5v1h-5z" fill="#ff00c8" shape-rendering="crispEdges"/>
<path d="M47 530h3v1h-3zM46 531h4v1h-4zM45 532h3v1h-3zM44 533h3v1h-3zM43 534h3v1h-3zM42 535h3v1h-3zM40 536h4v1h-4zM40 537h3v1h-3zM39 538h3v1h-3zM39 539h2v1h-2zM38 540h3v1h-3zM38 541h2v1h-2zM37 542h3v1h-3zM36 543h3v1h-3zM36 544h2v1h-2zM35 545h3v1h-3zM35 546h2v1h-2zM34 547h3v1h-3zM33 548h3v1h-3zM33 549h2v1h-2zM32 550h3v1h-3zM32 551h2v1h-2zM31 552h3v1h-3zM30 553h3v1h-3zM30 554h2v1h-2zM29 555h3v1h-3zM29 556h2v1h-2zM28 557h3v1h-3zM27 558h3v1h-3zM27 559h2v1h-2zM26 560h3v1h-3zM26 561h2v1h-2zM25 562h3v1h-3zM24 563h3v1h-3zM24 564h2v1h-2zM23 565h3v1h-3zM23 566h2v1h-2zM22 567h3v1h-3zM21 568h3v1h-3zM19 569h4v1h-4zM18 570h4v1h-4zM18 571h2v1h-2z" fill="#00f000" shape-rendering="crispEdges"/>
<path d="M48 530h2v1h-2zM48 531h4v1h-4zM49 532h5v1h-5zM51 533h4v1h-4zM53 534h4v1h-4zM54 535h4v1h-4zM56 536h4v1h-4zM57 537h5v1h-5zM59 538h4v1h-4zM61 539h4v1h-4zM62 540h4v1h-4zM64 541h3v1h-3zM65 542h3v1h-3zM66 543h3v1h-3zM67 544h3v1h-3zM68 545h3v1h-3zM69 546h3v1h-3zM70 547h3v1h-3zM70 548h5v1h-5zM72 549h5v1h-5zM74 550h9v1h-9zM76 551h7v1h-7z" fill="#ff00c8" shape-rendering="crispEdges"/>
<path d="M134 536h2v1h-2zM131 537h5v1h-5zM127 538h8v1h-8zM126 539h6v1h-6zM124 540h4v1h-4zM123 541h4v1h-4zM121 542h4v1h-4zM120 543h4v1h-4zM118 544h4v1h-4zM117 545h4v1h-4zM115 546h4v1h-4zM113 547h5v1h-5zM102 548h14v1h-14zM99 549h16v1h-16zM81 550h22v1h-22zM81 551h19v1h-19z" fill="#00f000" shape-rendering="crispEdges"/>
<path d="M134 536h3v1h-3zM134 537h6v1h-6zM136 538h7v1h-7zM139 539h7v1h-7zM142 540h6v1h-6zM145 541h6v1h-6zM147 542h6v1h-6zM150 543h6v1h-6zM152 544h5v1h-5zM154 545h5v1h-5zM156 546h5v1h-5zM158 547h4v1h-4zM160 548h4v1h-4zM161 549h5v1h-5zM163 550h4v1h-4zM164 551h5v1h-5zM166 552h5v1h-5zM168 553h5v1h-5zM170 554h5v1h-5zM172 555h6v1h-6zM174 556h7v1h-7zM177 557h6v1h-6zM180 558h5v1h-5zM182 559h4v1h-4zM184 560h3v1h-3zM185 561h3v1h-3zM186 562h3v1h-3zM187 563h3v1h-3zM188 564h3v1h-3zM189 565h3v1h-3zM190 566h3v1h-3zM191 567h3v1h-3zM192 568h3v1h-3zM193 569h3v1h-3zM194 570h4v1h-4zM195 571h4v1h-4zM197 572h3v1h-3zM198 573h3v1h-3zM199 574h6v1h-6zM200 575h8v1h-8zM204 576h5v1h-5zM207 577h2v1h-2z" fill="#ff00c8" shape-rendering="crispEdges"/>
<path d="M256 525h2v1h-2zM253 526h5v1h-5zM251 527h6v1h-6zM249 528h5v1h-5zM248 529h4v1h-4zM248 530h2v1h-2zM247 531h3v1h-3zM246 532h3v1h-3zM245 533h3v1h-3zM245 534h2v1h-2zM244 535h3v1h-3zM243 536h3v1h-3zM243 537h2v1h-2zM242 538h3v1h-3zM242 539h2v1h-2zM241 540h3v1h-3zM241 541h2v1h-2zM240 542h3v1h-3zM240 543h2v1h-2zM239 544h3v1h-3zM239 545h2v1h-2zM238 546h3v1h-3zM238 547h2v1h-2zM237 548h3v1h-3zM237 549h2v1h-2zM236 550h3v1h-3zM235 551h3v1h-3zM235 552h2v1h-2zM234 553h3v1h-3zM234 554h2v1h-2zM233 555h3v1h-3zM232 556h3v1h-3zM232 557h2v1h-2zM231 558h3v1h-3zM230 559h3v1h-3zM230 560h2v1h-2zM229 561h3v1h-3zM229 562h2v1h-2zM228 563h3v1h-3zM227 564h3v1h-3zM226 565h3v1h-3zM225 566h3v1h-3zM224 567h3v1h-3zM223 568h3v1h-3zM221 569h4v1h-4zM219 570h5v1h-5zM217 571h5v1h-5zM214 572h6v1h-6zM212 573h6v1h-6zM210 574h5v1h-5zM207 575h6v1h-6zM207 576h4v1h-4z" fill="#00f000" shape-rendering="crispEdges"/>
<path d="M256 525h7v1h-7zM256 526h15v1h-15zM262 527h13v1h-13zM270 528h5v1h-5z" fill="#ff00c8" shape-rendering="crispEdges"/>
<path d="M276 526h5v1h-5zM273 527h8v1h-8zM273 528h4v1h-4z" fill="#00f000" shape-rendering="crispEdges"/>
<path d="M279 526h5v1h-5zM279 527h5v1h-5z" fill="#00f000" shape-rendering="crispEdges"/>
<path d="M282 526h3v1h-3zM282 527h6v1h-6zM284 528h6v1h-6zM287 529h6v1h-6zM289 530h6v1h-6zM292 531h4v1h-4zM294 532h4v1h-4zM295 533h4v1h-4zM297 534h4v1h-4zM298 535h4v1h-4zM300 536h4v1h-4zM301 537h4v1h-4zM303 538h4v1h-4zM304 539h4v1h-4zM306 540h4v1h-4zM307 541h4v1h-4zM309 542h3v1h-3zM310 543h4v1h-4zM311 544h4v1h-4zM312 545h5v1h-5zM314 546h4v1h-4zM316 547h3v1h-3zM317 548h4v1h-4zM318 549h4v1h-4zM320 550h3v1h-3zM321 551h4v1h-4zM322 552h5v1h-5zM324 553h5v1h-5zM326 554h6v1h-6zM328 555h9v1h-9zM331 556h9v1h-9zM336 557h4v1h-4z" fill="#ff00c8" shape-rendering="crispEdges"/>
<path d="M368 546h8v1h-8zM362 547h14v1h-14zM360 548h9v1h-9zM357 549h6v1h-6zM355 550h6v1h-6zM353 551h5v1h-5zM351 552h5v1h-5zM349 553h5v1h-5zM345 554h7v1h-7zM341 555h9v1h-9zM338 556h8v1h-8zM338 557h4v1h-4z" fill="#00f000" shape-rendering="crispEdges"/>
<path d="M374 546h3v1h-3zM374 547h5v1h-5zM376 548h5v1h-5zM378 549h5v1h-5zM380 550h6v1h-6zM382 551h5v1h-5zM385 552h4v1h-4zM386 553h4v1h-4zM388 554h4v1h-4zM389 555h4v1h-4zM391 556h3v1h-3zM392 557h4v1h-4zM393 558h4v1h-4zM395 559h3v1h-3zM396 560h2v1h-2zM396 561h3v1h-3zM397 562h3v1h-3zM398 563h2v1h-2zM398 564h3v1h-3zM399 565h3v1h-3zM400 566h2v1h-2zM400 567h3v1h-3zM401 568h3v1h-3zM402 569h2v1h-2zM402 570h3v1h-3zM403 571h2v1h-2zM403 572h3v1h-3zM404 573h3v1h-3zM405 574h2v1h-2zM405 575h3v1h-3zM406 576h2v1h-2zM406 577h4v1h-4zM407 578h5v1h-5zM409 579h5v1h-5zM411 580h4v1h-4zM413 581h2v1h-2z" fill="#ff00c8" shape-rendering="crispEdges"/>
<path d="M432 568h2v1h-2zM428 569h6v1h-6zM426 570h7v1h-7zM424 571h5v1h-5zM423 572h4v1h-4zM422 573h3v1h-3zM421 574h3v1h-3zM419 575h4v1h-4zM418 576h4v1h-4zM416 577h4v1h-4zM415 578h4v1h-4zM414 579h3v1h-3zM413 580h3v1h-3zM413 581h2v1h-2z" fill="#00f000" shape-rendering="crispEdges"/>
<path d="M432 568h2v1h-2zM432 569h4v1h-4zM433 570h5v1h-5zM435 571h6v1h-6zM437 572h9v1h-9zM440 573h6v1h-6z" fill="#ff00c8" shape-rendering="crispEdges"/>
<path d="M498 520h3v1h-3zM496 521h5v1h-5zM494 522h5v1h-5zM494 523h3v1h-3zM493 524h3v1h-3zM492 525h3v1h-3zM491 526h3v1h-3zM491 527h2v1h-2zM490 528h3v1h-3zM489 529h3v1h-3zM488 530h3v1h-3zM488 531h2v1h-2zM487 532h3v1h-3zM486 533h3v1h-3zM485 534h3v1h-3zM485 535h2v1h-2zM484 536h3v1h-3zM483 537h3v1h-3zM482 538h3v1h-3zM481 539h3v1h-3zM480 540h3v1h-3zM479 541h3v1h-3zM478 542h3v1h-3zM476 543h4v1h-4zM470 544h9v1h-9zM468 545h10v1h-10zM465 546h7v1h-7zM463 547h6v1h-6zM463 548h3v1h-3zM462 549h3v1h-3zM462 550h2v1h-2zM461 551h3v1h-3zM460 552h3v1h-3zM460 553h2v1h-2zM459 554h3v1h-3zM458 555h3v1h-3zM458 556h2v1h-2zM457 557h3v1h-3zM456 558h3v1h-3zM456 559h2v1h-2zM455 560h3v1h-3zM454 561h3v1h-3zM454 562h2v1h-2zM453 563h3v1h-3zM452 564h3v1h-3zM452 565h2v1h-2zM451 566h3v1h-3zM450 567h3v1h-3zM449 568h3v1h-3zM447 569h4v1h-4zM446 570h4v1h-4zM445 571h3v1h-3zM444 572h3v1h-3zM444 573h2v1h-2z" fill="#00f000" shape-rendering="crispEdges"/>
<path d="M499 521h2v1h-2zM499 522h3v1h-3zM500 523h4v1h-4zM501 524h4v1h-4zM503 525h3v1h-3zM504 526h3v1h-3zM505 527h3v1h-3zM506 528h3v1h-3zM507 529h2v1h-2zM507 530h3v1h-3zM508 531h2v1h-2zM508 532h3v1h-3zM509 533h3v1h-3zM510 534h2v1h-2zM510 535h3v1h-3zM511 536h2v1h-2zM511 537h3v1h-3zM512 538h2v1h-2zM512 539h3v1h-3zM513 540h2v1h-2zM513 541h3v1h-3zM514 542h2v1h-2zM514 543h2v1h-2zM514 544h3v1h-3zM515 545h2v1h-2zM515 546h2v1h-2zM515 547h3v1h-3zM516 548h2v1h-2zM516 549h3v1h-3zM517 550h2v1h-2zM517 551h2v1h-2zM517 552h3v1h-3zM518 553h2v1h-2zM518 554h2v1h-2zM518 555h3v1h-3zM519 556h2v1h-2zM519 557h3v1h-3zM520 558h2v1h-2zM520 559h3v1h-3zM521 560h3v1h-3zM522 561h2v1h-2zM522 562h3v1h-3zM523 563h2v1h-2zM523 564h3v1h-3zM524 565h3v1h-3zM525 566h2v1h-2zM525 567h5v1h-5zM526 568h7v1h-7zM529 569h4v1h-4z" fill="#ff00c8" shape-rendering="crispEdges"/>
<path d="M549 537h2v1h-2zM549 538h2v1h-2zM548 539h3v1h-3zM547 540h3v1h-3zM547 541h2v1h-2zM546 542h3v1h-3zM546 543h2v1h-2zM545 544h3v1h-3zM545 545h2v1h-2zM544 546h3v1h-3zM543 547h3v1h-3zM543 548h2v1h-2zM542 549h3v1h-3zM542 550h2v1h-2zM541 551h3v1h-3zM541 552h2v1h-2zM540 553h3v1h-3zM540 554h2v1h-2zM540 555h2v1h-2zM539 556h3v1h-3zM539 557h2v1h-2zM538 558h3v1h-3zM538 559h2v1h-2zM537 560h3v1h-3zM537 561h2v1h-2zM536 562h3v1h-3zM536 563h2v1h-2zM535 564h3v1h-3zM534 565h3v1h-3zM533 566h3v1h-3zM532 567h3v1h-3zM531 568h3v1h-3zM531 569h2v1h-2z" fill="#00f000" shape-rendering="crispEdges"/>
<path d="M571 527h3v1h-3zM568 528h6v1h-6zM564 529h8v1h-8zM561 530h8v1h-8zM558 531h7v1h-7zM555 532h7v1h-7zM552 533h7v1h-7zM552 534h4v1h-4zM551 535h3v1h-3zM550 536h3v1h-3zM550 537h2v1h-2zM549 538h3v1h-3zM548 539h3v1h-3zM548 540h2v1h-2zM547 541h3v1h-3zM546 542h3v1h-3zM546 543h2v1h-2zM545 544h3v1h-3zM545 545h2v1h-2zM544 546h3v1h-3zM544 547h2v1h-2zM543 548h3v1h-3zM543 549h2v1h-2zM542 550h3v1h-3zM542 551h2v1h-2zM542 552h2v1h-2zM541 553h3v1h-3zM541 554h2v1h-2zM540 555h3v1h-3zM540 556h2v1h-2zM539 557h3v1h-3zM539 558h2v1h-2zM539 559h2v1h-2z" fill="#00f000" shape-rendering="crispEdges"/>
<path d="M572 527h3v1h-3zM572 528h5v1h-5zM574 529h6v1h-6zM576 530h6v1h-6zM579 531h6v1h-6zM581 532h6v1h-6zM584 533h5v1h-5zM586 534h5v1h-5zM588 535h5v1h-5zM590 536h5v1h-5zM592 537h4v1h-4zM594 538h3v1h-3zM595 539h4v1h-4zM596 540h4v1h-4zM598 541h3v1h-3zM599 542h4v1h-4zM600 543h3v1h-3zM601 544h3v1h-3zM602 545h3v1h-3zM603 546h2v1h-2zM603 547h3v1h-3zM604 548h2v1h-2zM604 549h3v1h-3zM605 550h3v1h-3zM606 551h2v1h-2zM606 552h3v1h-3zM607 553h2v1h-2zM607 554h3v1h-3zM608 555h3v1h-3zM609 556h2v1h-2zM609 557h3v1h-3zM610 558h2v1h-2zM610 559h3v1h-3zM611 560h2v1h-2zM611 561h3v1h-3zM612 562h3v1h-3zM613 563h3v1h-3zM614 564h3v1h-3zM615 565h3v1h-3zM616 566h2v1h-2zM616 567h4v1h-4zM617 568h5v1h-5zM619 569h6v1h-6zM621 570h8v1h-8zM624 571h13v1h-13zM628 572h9v1h-9z" fill="#ff00c8" shape-rendering="crispEdges"/>
<path d="M683 516h6v1h-6zM681 517h8v1h-8zM679 518h5v1h-5zM678 519h4v1h-4zM676 520h4v1h-4zM675 521h4v1h-4zM674 522h3v1h-3zM674 523h2v1h-2zM673 524h3v1h-3zM672 525h3v1h-3zM671 526h3v1h-3zM670 527h3v1h-3zM669 528h3v1h-3zM668 529h3v1h-3zM667 530h3v1h-3zM667 531h2v1h-2zM666 532h3v1h-3zM666 533h2v1h-2zM665 534h3v1h-3zM665 535h2v1h-2zM664 536h3v1h-3zM664 537h2v1h-2zM663 538h3v1h-3zM662 539h3v1h-3zM662 540h2v1h-2zM661 541h3v1h-3zM661 542h2v1h-2zM660 543h3v1h-3zM660 544h2v1h-2zM659 545h3v1h-3zM659 546h2v1h-2zM658 547h3v1h-3zM658 548h2v1h-2zM657 549h3v1h-3zM657 550h2v1h-2zM656 551h3v1h-3zM656 552h2v1h-2zM655 553h3v1h-3zM655 554h2v1h-2zM654 555h3v1h-3zM654 556h2v1h-2zM653 557h3v1h-3zM653 558h2v1h-2zM652 559h3v1h-3zM652 560h2v1h-2zM651 561h3v1h-3zM650 562h3v1h-3zM649 563h3v1h-3zM648 564h3v1h-3zM647 565h3v1h-3zM647 566h2v1h-2zM646 567h3v1h-3zM644 568h4v1h-4zM641 569h6v1h-6zM637 570h8v1h-8zM635 571h7v1h-7zM635 572h3v1h-3z" fill="#00f000" shape-rendering="crispEdges"/>
<path d="M687 516h2v1h-2zM687 517h4v1h-4zM688 518h5v1h-5zM690 519h5v1h-5zM692 520h4v1h-4zM694 521h3v1h-3zM695 522h3v1h-3zM696 523h3v1h-3zM697 524h3v1h-3zM698 525h3v1h-3zM699 526h3v1h-3zM700 527h3v1h-3zM701 528h3v1h-3zM702 529h3v1h-3zM703 530h3v1h-3zM704 531h3v1h-3zM705 532h3v1h-3zM706 533h3v1h-3zM707 534h3v1h-3zM708 535h3v1h-3zM709 536h4v1h-4zM710 537h3v1h-3zM711 538h3v1h-3zM712 539h3v1h-3zM713 540h3v1h-3zM714 541h2v1h-2zM714 542h3v1h-3zM715 543h3v1h-3zM716 544h3v1h-3zM717 545h3v1h-3zM718 546h2v1h-2zM718 547h4v1h-4zM719 548h4v1h-4zM721 549h3v1h-3zM722 550h4v1h-4zM723 551h4v1h-4zM725 552h7v1h-7zM726 553h10v1h-10zM731 554h5v1h-5z" fill="#ff00c8" shape-rendering="crispEdges"/>
<path d="M748 549h7v1h-7zM744 550h11v1h-11zM742 551h7v1h-7zM738 552h7v1h-7zM734 553h9v1h-9zM734 554h5v1h-5z" fill="#00f000" shape-rendering="crispEdges"/>
<path d="M753 549h4v1h-4zM753 550h4v1h-4z" fill="#ff00c8" shape-rendering="crispEdges"/>
<path d="M766 548h6v1h-6zM755 549h17v1h-17zM755 550h12v1h-12z" fill="#00f000" shape-rendering="crispEdges"/>
<path d="M770 548h6v1h-6zM770 549h8v1h-8zM775 550h3v1h-3z" fill="#ff00c8" shape-rendering="crispEdges"/>
<path d="M790 546h7v1h-7zM786 547h11v1h-11zM778 548h13v1h-13zM776 549h11v1h-11zM776 550h3v1h-3z" fill="#00f000" shape-rendering="crispEdges"/>
<path d="M795 546h3v1h-3zM795 547h5v1h-5zM797 548h5v1h-5zM799 549h5v1h-5zM801 550h4v1h-4zM803 551h3v1h-3zM804 552h2v1h-2zM804 553h3v1h-3zM805 554h3v1h-3zM806 555h2v1h-2zM806 556h3v1h-3zM807 557h3v1h-3zM808 558h3v1h-3zM809 559h3v1h-3zM810 560h2v1h-2zM810 561h3v1h-3zM811 562h3v1h-3zM812 563h3v1h-3zM813 564h3v1h-3zM814 565h4v1h-4zM815 566h5v1h-5zM817 567h4v1h-4zM819 568h2v1h-2z" fill="#ff00c8" shape-rendering="crispEdges"/>
<path d="M819 567h4v1h-4zM819 568h5v1h-5zM822 569h2v1h-2z" fill="#ff00c8" shape-rendering="crispEdges"/>
<path d="M866 537h5v1h-5zM862 538h9v1h-9zM861 539h6v1h-6zM859 540h4v1h-4zM858 541h4v1h-4zM857 542h3v1h-3zM856 543h3v1h-3zM854 544h4v1h-4zM853 545h4v1h-4zM852 546h3v1h-3zM851 547h3v1h-3zM850 548h3v1h-3zM849 549h3v1h-3zM847 550h4v1h-4zM846 551h4v1h-4zM845 552h3v1h-3zM844 553h3v1h-3zM843 554h3v1h-3zM842 555h3v1h-3zM840 556h4v1h-4zM839 557h4v1h-4zM837 558h4v1h-4zM836 559h4v1h-4zM835 560h3v1h-3zM833 561h4v1h-4zM832 562h4v1h-4zM830 563h4v1h-4zM828 564h5v1h-5zM827 565h4v1h-4zM825 566h4v1h-4zM823 567h5v1h-5zM822 568h4v1h-4zM822 569h2v1h-2z" fill="#00f000" shape-rendering="crispEdges"/>
<path d="M869 537h4v1h-4zM869 538h7v1h-7zM872 539h7v1h-7zM875 540h8v1h-8zM878 541h9v1h-9zM882 542h10v1h-10zM886 543h7v1h-7zM890 544h5v1h-5zM892 545h5v1h-5zM894 546h5v1h-5zM896 547h5v1h-5zM898 548h6v1h-6zM900 549h6v1h-6zM903 550h6v1h-6zM905 551h11v1h-11zM908 552h8v1h-8z" fill="#ff00c8" shape-rendering="crispEdges"/>
<path d="M936 547h4v1h-4zM932 548h8v1h-8zM927 549h10v1h-10zM920 550h13v1h-13zM914 551h14v1h-14zM914 552h7v1h-7z" fill="#00f000" shape-rendering="crispEdges"/>
<path d="M938 547h3v1h-3zM938 548h5v1h-5zM940 549h5v1h-5zM942 550h5v1h-5zM944 551h6v1h-6zM946 552h6v1h-6zM949 553h5v1h-5zM951 554h8v1h-8zM953 555h12v1h-12zM958 556h10v1h-10zM964 557h4v1h-4z" fill="#ff00c8" shape-rendering="crispEdges"/>
<path d="M996 542h9v1h-9zM992 543h13v1h-13zM990 544h7v1h-7zM988 545h5v1h-5zM986 546h5v1h-5zM984 547h5v1h-5zM982 548h5v1h-5zM981 549h4v1h-4zM979 550h4v1h-4zM977 551h5v1h-5zM975 552h5v1h-5zM973 553h5v1h-5zM970 554h6v1h-6zM968 555h6v1h-6zM966 556h5v1h-5zM966 557h3v1h-3z" fill="#00f000" shape-rendering="crispEdges"/>
<path d="M1003 541h2v1h-2zM1003 542h4v1h-4zM1004 543h4v1h-4zM1006 544h4v1h-4zM1007 545h5v1h-5zM1009 546h4v1h-4zM1011 547h3v1h-3zM1012 548h3v1h-3zM1013 549h3v1h-3zM1014 550h2v1h-2zM1014 551h3v1h-3zM1015 552h3v1h-3zM1016 553h3v1h-3zM1017 554h3v1h-3zM1018 555h3v1h-3zM1019 556h4v1h-4zM1020 557h4v1h-4zM1022 558h3v1h-3zM1023 559h8v1h-8zM1024 560h7v1h-7z" fill="#ff00c8" shape-rendering="crispEdges"/>
<path d="M1041 557h4v1h-4zM1037 558h8v1h-8zM1029 559h13v1h-13zM1029 560h9v1h-9z" fill="#00f000" shape-rendering="crispEdges"/>
<path d="M1043 557h3v1h-3zM1043 558h8v1h-8zM1045 559h8v1h-8zM1050 560h4v1h-4zM1052 561h4v1h-4zM1053 562h5v1h-5zM1055 563h5v1h-5zM1057 564h6v1h-6zM1059 565h7v1h-7zM1062 566h4v1h-4z" fill="#ff00c8" shape-rendering="crispEdges"/>
<path d="M1089 536h2v1h-2zM1088 537h3v1h-3zM1088 538h2v1h-2zM1087 539h3v1h-3zM1086 540h3v1h-3zM1085 541h3v1h-3zM1084 542h3v1h-3zM1084 543h2v1h-2zM1083 544h3v1h-3zM1083 545h2v1h-2zM1082 546h3v1h-3zM1082 547h2v1h-2zM1081 548h3v1h-3zM1080 549h3v1h-3zM1080 550h2v1h-2zM1079 551h3v1h-3zM1079 552h2v1h-2zM1078 553h3v1h-3zM1078 554h2v1h-2zM1077 555h3v1h-3zM1076 556h3v1h-3zM1075 557h3v1h-3zM1074 558h3v1h-3zM1073 559h3v1h-3zM1072 560h3v1h-3zM1072 561h2v1h-2zM1070 562h4v1h-4zM1068 563h5v1h-5zM1066 564h5v1h-5zM1064 565h5v1h-5zM1064 566h3v1h-3z" fill="#00f000" shape-rendering="crispEdges"/>
<path d="M1100 528h6v1h-6zM1097 529h9v1h-9zM1095 530h6v1h-6zM1094 531h4v1h-4zM1093 532h3v1h-3zM1092 533h3v1h-3zM1091 534h3v1h-3zM1090 535h3v1h-3zM1089 536h3v1h-3zM1089 537h2v1h-2z" fill="#00f000" shape-rendering="crispEdges"/>
<path d="M1104 528h3v1h-3zM1104 529h5v1h-5zM1106 530h4v1h-4zM1108 531h4v1h-4zM1109 532h4v1h-4zM1111 533h3v1h-3zM1112 534h3v1h-3zM1113 535h3v1h-3zM1114 536h3v1h-3zM1115 537h2v1h-2zM1115 538h3v1h-3zM1116 539h3v1h-3zM1117 540h3v1h-3zM1118 541h3v1h-3zM1119 542h3v1h-3zM1120 543h3v1h-3zM1121 544h3v1h-3zM1122 545h3v1h-3zM1123 546h3v1h-3zM1124 547h2v1h-2z" fill="#ff00c8" shape-rendering="crispEdges"/>
<rect x="0" y="503" width="148" height="17" fill="#eeede9"/>
<g font-family="Liberation Sans, Arial, sans-serif" font-weight="bold" font-size="13" fill="#000">
<text x="30" y="16.1">Nasdaq Composite (COMP_IDX)</text>
<text x="1" y="516" font-size="13.3" textLength="145.5" lengthAdjust="spacingAndGlyphs">EARL(8,11): .0000; .0000</text>
<text x="1289.1" y="31.0" font-size="14" textLength="46.2" lengthAdjust="spacingAndGlyphs">2850.00</text>
<text x="1289.1" y="58.0" font-size="14" textLength="46.2" lengthAdjust="spacingAndGlyphs">2800.00</text>
<text x="1289.1" y="85.0" font-size="14" textLength="46.2" lengthAdjust="spacingAndGlyphs">2750.00</text>
<text x="1289.1" y="112.0" font-size="14" textLength="46.2" lengthAdjust="spacingAndGlyphs">2700.00</text>
<text x="1289.1" y="139.0" font-size="14" textLength="46.2" lengthAdjust="spacingAndGlyphs">2650.00</text>
<text x="1289.1" y="166.0" font-size="14" textLength="46.2" lengthAdjust="spacingAndGlyphs">2600.00</text>
<text x="1289.1" y="193.0" font-size="14" textLength="46.2" lengthAdjust="spacingAndGlyphs">2550.00</text>
<text x="1289.1" y="220.0" font-size="14" textLength="46.2" lengthAdjust="spacingAndGlyphs">2500.00</text>
<text x="1289.1" y="247.0" font-size="14" textLength="46.2" lengthAdjust="spacingAndGlyphs">2450.00</text>
<text x="1289.1" y="273.0" font-size="14" textLength="46.2" lengthAdjust="spacingAndGlyphs">2400.00</text>
<text x="1289.1" y="300.0" font-size="14" textLength="46.2" lengthAdjust="spacingAndGlyphs">2350.00</text>
<text x="1289.1" y="327.0" font-size="14" textLength="46.2" lengthAdjust="spacingAndGlyphs">2300.00</text>
<text x="1289.1" y="354.0" font-size="14" textLength="46.2" lengthAdjust="spacingAndGlyphs">2250.00</text>
<text x="1289.1" y="381.0" font-size="14" textLength="46.2" lengthAdjust="spacingAndGlyphs">2200.00</text>
<text x="1289.1" y="408.0" font-size="14" textLength="46.2" lengthAdjust="spacingAndGlyphs">2150.00</text>
<text x="1289.1" y="435.0" font-size="14" textLength="46.2" lengthAdjust="spacingAndGlyphs">2100.00</text>
<text x="1289.1" y="462.0" font-size="14" textLength="46.2" lengthAdjust="spacingAndGlyphs">2050.00</text>
<text x="1289.1" y="489.0" font-size="14" textLength="46.2" lengthAdjust="spacingAndGlyphs">2000.00</text>
<text x="10.0" y="625.8" font-size="13.4">Nov</text>
<text x="73.0" y="625.8" font-size="13.4">Dec</text>
<text x="142.0" y="625.8" font-size="13.4">2010</text>
<text x="205.0" y="625.8" font-size="13.4">Feb</text>
<text x="262.0" y="625.8" font-size="13.4">Mar</text>
<text x="331.0" y="625.8" font-size="13.4">Apr</text>
<text x="394.0" y="625.8" font-size="13.4">May</text>
<text x="454.0" y="625.8" font-size="13.4">Jun</text>
<text x="520.0" y="625.8" font-size="13.4">Jul</text>
<text x="583.0" y="625.8" font-size="13.4">Aug</text>
<text x="649.0" y="625.8" font-size="13.4">Sep</text>
<text x="712.0" y="625.8" font-size="13.4">Oct</text>
<text x="775.0" y="625.8" font-size="13.4">Nov</text>
<text x="841.0" y="625.8" font-size="13.4">Dec</text>
<text x="907.0" y="625.8" font-size="13.4" textLength="27.3" lengthAdjust="spacing">2011</text>
<text x="967.0" y="625.8" font-size="13.4">Feb</text>
<text x="1024.0" y="625.8" font-size="13.4">Mar</text>
<text x="1093.0" y="625.8" font-size="13.4">Apr</text>
<text x="1161.0" y="625.8" font-size="13.4">May</text>
<text x="1336.6" y="554">0</text>
</g>
<rect x="1341" y="521" width="2" height="2" fill="#000"/>
<rect x="1341" y="532" width="2" height="2" fill="#000"/>
<rect x="1341" y="572" width="2" height="2" fill="#000"/>
<rect x="1341" y="591" width="2" height="2" fill="#000"/>
</svg>
</body></html>
